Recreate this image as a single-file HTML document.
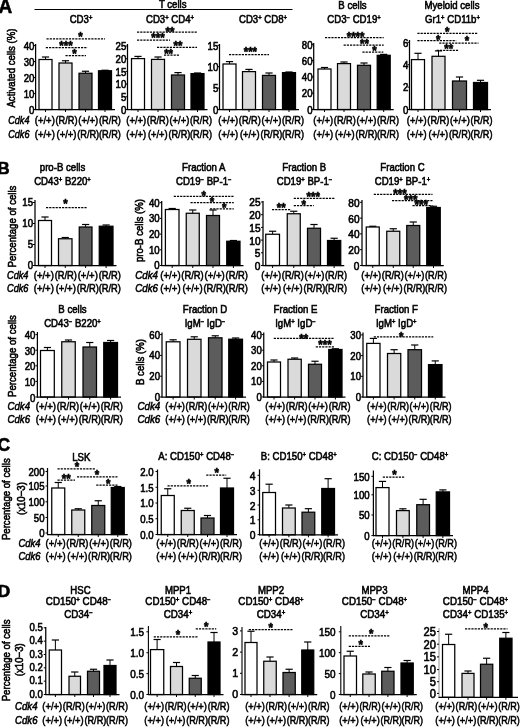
<!DOCTYPE html>
<html><head><meta charset="utf-8"><title>Figure</title>
<style>
html,body{margin:0;padding:0;background:#fff;}
svg{display:block;font-family:"Liberation Sans",sans-serif;fill:#000;}
text{stroke:#000;stroke-width:0.6px;}
</style></head>
<body>
<svg width="520" height="727" viewBox="0 0 520 727">
<rect x="0" y="0" width="520" height="727" fill="#fff" stroke="none"/>
<text transform="translate(-1.50 12.70) scale(0.950 1)" font-size="20.0" text-anchor="start" font-weight="bold">A</text>
<line x1="34.50" y1="9.50" x2="292.50" y2="9.50" stroke="#000" stroke-width="1.00"/>
<text transform="translate(172.70 7.80) scale(0.875 1)" font-size="11.0" text-anchor="middle">T cells</text>
<text transform="translate(81.00 23.44) scale(0.875 1)" font-size="11.0" text-anchor="middle">CD3<tspan dy="-3.0" font-size="6.8">+</tspan></text>
<text transform="translate(170.00 23.44) scale(0.875 1)" font-size="11.0" text-anchor="middle">CD3<tspan dy="-3.0" font-size="6.8">+</tspan><tspan dy="3.0"> CD4</tspan><tspan dy="-3.0" font-size="6.8">+</tspan></text>
<text transform="translate(263.00 23.44) scale(0.875 1)" font-size="11.0" text-anchor="middle">CD3<tspan dy="-3.0" font-size="6.8">+</tspan><tspan dy="3.0"> CD8</tspan><tspan dy="-3.0" font-size="6.8">+</tspan></text>
<text transform="translate(352.50 9.44) scale(0.875 1)" font-size="11.0" text-anchor="middle">B cells</text>
<text transform="translate(354.00 23.44) scale(0.875 1)" font-size="11.0" text-anchor="middle">CD3<tspan dy="-3.0" font-size="6.8">−</tspan><tspan dy="3.0"> CD19</tspan><tspan dy="-3.0" font-size="6.8">+</tspan></text>
<text transform="translate(452.00 9.44) scale(0.875 1)" font-size="11.0" text-anchor="middle">Myeloid cells</text>
<text transform="translate(452.50 23.44) scale(0.875 1)" font-size="11.0" text-anchor="middle">Gr1<tspan dy="-3.0" font-size="6.8">+</tspan><tspan dy="3.0"> CD11b</tspan><tspan dy="-3.0" font-size="6.8">+</tspan></text>
<text transform="translate(14.94 68.00) rotate(-90) scale(0.875 1)" font-size="11.0" text-anchor="middle">Activated cells (%)</text>
<line x1="45.50" y1="59.50" x2="45.50" y2="57.00" stroke="#000" stroke-width="1.00"/>
<line x1="41.90" y1="57.00" x2="49.10" y2="57.00" stroke="#000" stroke-width="1.20"/>
<rect x="39.00" y="59.50" width="13.00" height="50.00" fill="#ffffff" stroke="#000" stroke-width="1.25"/>
<line x1="45.50" y1="109.50" x2="45.50" y2="112.00" stroke="#000" stroke-width="1.00"/>
<line x1="65.50" y1="63.00" x2="65.50" y2="60.75" stroke="#000" stroke-width="1.00"/>
<line x1="61.90" y1="60.75" x2="69.10" y2="60.75" stroke="#000" stroke-width="1.20"/>
<rect x="59.00" y="63.00" width="13.00" height="46.50" fill="#dadada" stroke="#000" stroke-width="1.25"/>
<line x1="65.50" y1="109.50" x2="65.50" y2="112.00" stroke="#000" stroke-width="1.00"/>
<line x1="85.50" y1="73.25" x2="85.50" y2="71.25" stroke="#000" stroke-width="1.00"/>
<line x1="81.90" y1="71.25" x2="89.10" y2="71.25" stroke="#000" stroke-width="1.20"/>
<rect x="79.00" y="73.25" width="13.00" height="36.25" fill="#5c5c5c" stroke="#000" stroke-width="1.25"/>
<line x1="85.50" y1="109.50" x2="85.50" y2="112.00" stroke="#000" stroke-width="1.00"/>
<line x1="105.00" y1="70.75" x2="105.00" y2="70.25" stroke="#000" stroke-width="1.00"/>
<line x1="101.40" y1="70.25" x2="108.60" y2="70.25" stroke="#000" stroke-width="1.20"/>
<rect x="98.50" y="70.75" width="13.00" height="38.75" fill="#000000" stroke="#000" stroke-width="1.25"/>
<line x1="105.00" y1="109.50" x2="105.00" y2="112.00" stroke="#000" stroke-width="1.00"/>
<line x1="35.60" y1="44.00" x2="35.60" y2="110.00" stroke="#000" stroke-width="1.25"/>
<line x1="35.10" y1="109.50" x2="115.00" y2="109.50" stroke="#000" stroke-width="1.25"/>
<line x1="33.60" y1="45.50" x2="35.60" y2="45.50" stroke="#000" stroke-width="1.00"/>
<text transform="translate(34.40 49.74) scale(0.875 1)" font-size="11.0" text-anchor="end">40</text>
<line x1="33.60" y1="61.50" x2="35.60" y2="61.50" stroke="#000" stroke-width="1.00"/>
<text transform="translate(34.40 65.74) scale(0.875 1)" font-size="11.0" text-anchor="end">30</text>
<line x1="33.60" y1="77.50" x2="35.60" y2="77.50" stroke="#000" stroke-width="1.00"/>
<text transform="translate(34.40 81.74) scale(0.875 1)" font-size="11.0" text-anchor="end">20</text>
<line x1="33.60" y1="93.50" x2="35.60" y2="93.50" stroke="#000" stroke-width="1.00"/>
<text transform="translate(34.40 97.74) scale(0.875 1)" font-size="11.0" text-anchor="end">10</text>
<line x1="33.60" y1="109.50" x2="35.60" y2="109.50" stroke="#000" stroke-width="1.00"/>
<text transform="translate(34.40 113.74) scale(0.875 1)" font-size="11.0" text-anchor="end">0</text>
<line x1="46.50" y1="38.75" x2="105.00" y2="38.75" stroke="#000" stroke-width="1.25" stroke-dasharray="2.2 1"/>
<text transform="translate(80.50 40.54) scale(0.950 1)" font-size="12.0" text-anchor="middle" font-weight="bold" stroke-width="0.15">*</text>
<line x1="45.80" y1="47.50" x2="87.50" y2="47.50" stroke="#000" stroke-width="1.25" stroke-dasharray="2.2 1"/>
<text transform="translate(66.00 50.04) scale(0.950 1)" font-size="12.0" text-anchor="middle" font-weight="bold" stroke-width="0.15">***</text>
<line x1="65.50" y1="55.50" x2="86.00" y2="55.50" stroke="#000" stroke-width="1.25" stroke-dasharray="2.2 1"/>
<text transform="translate(74.50 58.04) scale(0.950 1)" font-size="12.0" text-anchor="middle" font-weight="bold" stroke-width="0.15">*</text>
<line x1="138.00" y1="58.60" x2="138.00" y2="56.40" stroke="#000" stroke-width="1.00"/>
<line x1="134.40" y1="56.40" x2="141.60" y2="56.40" stroke="#000" stroke-width="1.20"/>
<rect x="131.50" y="58.60" width="13.00" height="50.90" fill="#ffffff" stroke="#000" stroke-width="1.25"/>
<line x1="138.00" y1="109.50" x2="138.00" y2="112.00" stroke="#000" stroke-width="1.00"/>
<line x1="158.00" y1="59.40" x2="158.00" y2="57.00" stroke="#000" stroke-width="1.00"/>
<line x1="154.40" y1="57.00" x2="161.60" y2="57.00" stroke="#000" stroke-width="1.20"/>
<rect x="151.50" y="59.40" width="13.00" height="50.10" fill="#dadada" stroke="#000" stroke-width="1.25"/>
<line x1="158.00" y1="109.50" x2="158.00" y2="112.00" stroke="#000" stroke-width="1.00"/>
<line x1="178.00" y1="75.00" x2="178.00" y2="72.60" stroke="#000" stroke-width="1.00"/>
<line x1="174.40" y1="72.60" x2="181.60" y2="72.60" stroke="#000" stroke-width="1.20"/>
<rect x="171.50" y="75.00" width="13.00" height="34.50" fill="#5c5c5c" stroke="#000" stroke-width="1.25"/>
<line x1="178.00" y1="109.50" x2="178.00" y2="112.00" stroke="#000" stroke-width="1.00"/>
<line x1="197.50" y1="73.60" x2="197.50" y2="73.00" stroke="#000" stroke-width="1.00"/>
<line x1="193.90" y1="73.00" x2="201.10" y2="73.00" stroke="#000" stroke-width="1.20"/>
<rect x="191.00" y="73.60" width="13.00" height="35.90" fill="#000000" stroke="#000" stroke-width="1.25"/>
<line x1="197.50" y1="109.50" x2="197.50" y2="112.00" stroke="#000" stroke-width="1.00"/>
<line x1="127.50" y1="44.00" x2="127.50" y2="110.00" stroke="#000" stroke-width="1.25"/>
<line x1="127.00" y1="109.50" x2="207.50" y2="109.50" stroke="#000" stroke-width="1.25"/>
<line x1="125.50" y1="46.00" x2="127.50" y2="46.00" stroke="#000" stroke-width="1.00"/>
<text transform="translate(126.30 50.24) scale(0.875 1)" font-size="11.0" text-anchor="end">25</text>
<line x1="125.50" y1="58.70" x2="127.50" y2="58.70" stroke="#000" stroke-width="1.00"/>
<text transform="translate(126.30 62.94) scale(0.875 1)" font-size="11.0" text-anchor="end">20</text>
<line x1="125.50" y1="71.40" x2="127.50" y2="71.40" stroke="#000" stroke-width="1.00"/>
<text transform="translate(126.30 75.64) scale(0.875 1)" font-size="11.0" text-anchor="end">15</text>
<line x1="125.50" y1="84.10" x2="127.50" y2="84.10" stroke="#000" stroke-width="1.00"/>
<text transform="translate(126.30 88.34) scale(0.875 1)" font-size="11.0" text-anchor="end">10</text>
<line x1="125.50" y1="96.80" x2="127.50" y2="96.80" stroke="#000" stroke-width="1.00"/>
<text transform="translate(126.30 101.04) scale(0.875 1)" font-size="11.0" text-anchor="end">5</text>
<line x1="125.50" y1="109.50" x2="127.50" y2="109.50" stroke="#000" stroke-width="1.00"/>
<text transform="translate(126.30 113.74) scale(0.875 1)" font-size="11.0" text-anchor="end">0</text>
<line x1="137.00" y1="32.00" x2="197.00" y2="32.00" stroke="#000" stroke-width="1.25" stroke-dasharray="2.2 1"/>
<text transform="translate(170.00 36.04) scale(0.950 1)" font-size="12.0" text-anchor="middle" font-weight="bold" stroke-width="0.15">**</text>
<line x1="137.00" y1="40.00" x2="170.00" y2="40.00" stroke="#000" stroke-width="1.25" stroke-dasharray="2.2 1"/>
<text transform="translate(158.00 42.44) scale(0.950 1)" font-size="12.0" text-anchor="middle" font-weight="bold" stroke-width="0.15">***</text>
<line x1="157.00" y1="47.40" x2="197.00" y2="47.40" stroke="#000" stroke-width="1.25" stroke-dasharray="2.2 1"/>
<text transform="translate(178.00 50.04) scale(0.950 1)" font-size="12.0" text-anchor="middle" font-weight="bold" stroke-width="0.15">**</text>
<line x1="164.00" y1="55.00" x2="179.00" y2="55.00" stroke="#000" stroke-width="1.25" stroke-dasharray="2.2 1"/>
<text transform="translate(168.60 57.64) scale(0.950 1)" font-size="12.0" text-anchor="middle" font-weight="bold" stroke-width="0.15">**</text>
<line x1="229.50" y1="64.00" x2="229.50" y2="61.60" stroke="#000" stroke-width="1.00"/>
<line x1="225.90" y1="61.60" x2="233.10" y2="61.60" stroke="#000" stroke-width="1.20"/>
<rect x="223.00" y="64.00" width="13.00" height="45.50" fill="#ffffff" stroke="#000" stroke-width="1.25"/>
<line x1="229.50" y1="109.50" x2="229.50" y2="112.00" stroke="#000" stroke-width="1.00"/>
<line x1="249.00" y1="71.60" x2="249.00" y2="69.40" stroke="#000" stroke-width="1.00"/>
<line x1="245.40" y1="69.40" x2="252.60" y2="69.40" stroke="#000" stroke-width="1.20"/>
<rect x="242.50" y="71.60" width="13.00" height="37.90" fill="#dadada" stroke="#000" stroke-width="1.25"/>
<line x1="249.00" y1="109.50" x2="249.00" y2="112.00" stroke="#000" stroke-width="1.00"/>
<line x1="269.00" y1="75.40" x2="269.00" y2="73.00" stroke="#000" stroke-width="1.00"/>
<line x1="265.40" y1="73.00" x2="272.60" y2="73.00" stroke="#000" stroke-width="1.20"/>
<rect x="262.50" y="75.40" width="13.00" height="34.10" fill="#5c5c5c" stroke="#000" stroke-width="1.25"/>
<line x1="269.00" y1="109.50" x2="269.00" y2="112.00" stroke="#000" stroke-width="1.00"/>
<line x1="289.00" y1="72.60" x2="289.00" y2="72.00" stroke="#000" stroke-width="1.00"/>
<line x1="285.40" y1="72.00" x2="292.60" y2="72.00" stroke="#000" stroke-width="1.20"/>
<rect x="282.50" y="72.60" width="13.00" height="36.90" fill="#000000" stroke="#000" stroke-width="1.25"/>
<line x1="289.00" y1="109.50" x2="289.00" y2="112.00" stroke="#000" stroke-width="1.00"/>
<line x1="219.50" y1="44.00" x2="219.50" y2="110.00" stroke="#000" stroke-width="1.25"/>
<line x1="219.00" y1="109.50" x2="299.00" y2="109.50" stroke="#000" stroke-width="1.25"/>
<line x1="217.50" y1="45.30" x2="219.50" y2="45.30" stroke="#000" stroke-width="1.00"/>
<text transform="translate(218.30 49.54) scale(0.875 1)" font-size="11.0" text-anchor="end">15</text>
<line x1="217.50" y1="66.70" x2="219.50" y2="66.70" stroke="#000" stroke-width="1.00"/>
<text transform="translate(218.30 70.94) scale(0.875 1)" font-size="11.0" text-anchor="end">10</text>
<line x1="217.50" y1="88.10" x2="219.50" y2="88.10" stroke="#000" stroke-width="1.00"/>
<text transform="translate(218.30 92.34) scale(0.875 1)" font-size="11.0" text-anchor="end">5</text>
<line x1="217.50" y1="109.50" x2="219.50" y2="109.50" stroke="#000" stroke-width="1.00"/>
<text transform="translate(218.30 113.74) scale(0.875 1)" font-size="11.0" text-anchor="end">0</text>
<line x1="229.00" y1="54.60" x2="269.00" y2="54.60" stroke="#000" stroke-width="1.25" stroke-dasharray="2.2 1"/>
<text transform="translate(250.40 55.74) scale(0.950 1)" font-size="12.0" text-anchor="middle" font-weight="bold" stroke-width="0.15">***</text>
<line x1="324.50" y1="69.00" x2="324.50" y2="67.50" stroke="#000" stroke-width="1.00"/>
<line x1="320.90" y1="67.50" x2="328.10" y2="67.50" stroke="#000" stroke-width="1.20"/>
<rect x="318.00" y="69.00" width="13.00" height="40.50" fill="#ffffff" stroke="#000" stroke-width="1.25"/>
<line x1="324.50" y1="109.50" x2="324.50" y2="112.00" stroke="#000" stroke-width="1.00"/>
<line x1="344.00" y1="63.60" x2="344.00" y2="62.00" stroke="#000" stroke-width="1.00"/>
<line x1="340.40" y1="62.00" x2="347.60" y2="62.00" stroke="#000" stroke-width="1.20"/>
<rect x="337.50" y="63.60" width="13.00" height="45.90" fill="#dadada" stroke="#000" stroke-width="1.25"/>
<line x1="344.00" y1="109.50" x2="344.00" y2="112.00" stroke="#000" stroke-width="1.00"/>
<line x1="364.00" y1="65.30" x2="364.00" y2="63.00" stroke="#000" stroke-width="1.00"/>
<line x1="360.40" y1="63.00" x2="367.60" y2="63.00" stroke="#000" stroke-width="1.20"/>
<rect x="357.50" y="65.30" width="13.00" height="44.20" fill="#5c5c5c" stroke="#000" stroke-width="1.25"/>
<line x1="364.00" y1="109.50" x2="364.00" y2="112.00" stroke="#000" stroke-width="1.00"/>
<line x1="383.70" y1="55.30" x2="383.70" y2="54.40" stroke="#000" stroke-width="1.00"/>
<line x1="380.10" y1="54.40" x2="387.30" y2="54.40" stroke="#000" stroke-width="1.20"/>
<rect x="377.20" y="55.30" width="13.00" height="54.20" fill="#000000" stroke="#000" stroke-width="1.25"/>
<line x1="383.70" y1="109.50" x2="383.70" y2="112.00" stroke="#000" stroke-width="1.00"/>
<line x1="313.70" y1="43.00" x2="313.70" y2="110.00" stroke="#000" stroke-width="1.25"/>
<line x1="313.20" y1="109.50" x2="393.70" y2="109.50" stroke="#000" stroke-width="1.25"/>
<line x1="311.70" y1="44.30" x2="313.70" y2="44.30" stroke="#000" stroke-width="1.00"/>
<text transform="translate(312.50 48.54) scale(0.875 1)" font-size="11.0" text-anchor="end">80</text>
<line x1="311.70" y1="60.60" x2="313.70" y2="60.60" stroke="#000" stroke-width="1.00"/>
<text transform="translate(312.50 64.84) scale(0.875 1)" font-size="11.0" text-anchor="end">60</text>
<line x1="311.70" y1="76.90" x2="313.70" y2="76.90" stroke="#000" stroke-width="1.00"/>
<text transform="translate(312.50 81.14) scale(0.875 1)" font-size="11.0" text-anchor="end">40</text>
<line x1="311.70" y1="93.20" x2="313.70" y2="93.20" stroke="#000" stroke-width="1.00"/>
<text transform="translate(312.50 97.44) scale(0.875 1)" font-size="11.0" text-anchor="end">20</text>
<line x1="311.70" y1="109.50" x2="313.70" y2="109.50" stroke="#000" stroke-width="1.00"/>
<text transform="translate(312.50 113.74) scale(0.875 1)" font-size="11.0" text-anchor="end">0</text>
<line x1="325.00" y1="37.70" x2="383.70" y2="37.70" stroke="#000" stroke-width="1.25" stroke-dasharray="2.2 1"/>
<text transform="translate(355.60 40.64) scale(0.950 1)" font-size="12.0" text-anchor="middle" font-weight="bold" stroke-width="0.15">****</text>
<line x1="343.60" y1="45.00" x2="383.70" y2="45.00" stroke="#000" stroke-width="1.25" stroke-dasharray="2.2 1"/>
<text transform="translate(364.40 47.74) scale(0.950 1)" font-size="12.0" text-anchor="middle" font-weight="bold" stroke-width="0.15">**</text>
<line x1="362.40" y1="52.20" x2="383.30" y2="52.20" stroke="#000" stroke-width="1.25" stroke-dasharray="2.2 1"/>
<text transform="translate(374.50 54.74) scale(0.950 1)" font-size="12.0" text-anchor="middle" font-weight="bold" stroke-width="0.15">*</text>
<line x1="418.00" y1="59.60" x2="418.00" y2="53.30" stroke="#000" stroke-width="1.00"/>
<line x1="414.40" y1="53.30" x2="421.60" y2="53.30" stroke="#000" stroke-width="1.20"/>
<rect x="411.50" y="59.60" width="13.00" height="49.90" fill="#ffffff" stroke="#000" stroke-width="1.25"/>
<line x1="418.00" y1="109.50" x2="418.00" y2="112.00" stroke="#000" stroke-width="1.00"/>
<line x1="438.50" y1="56.30" x2="438.50" y2="50.90" stroke="#000" stroke-width="1.00"/>
<line x1="434.90" y1="50.90" x2="442.10" y2="50.90" stroke="#000" stroke-width="1.20"/>
<rect x="432.00" y="56.30" width="13.00" height="53.20" fill="#dadada" stroke="#000" stroke-width="1.25"/>
<line x1="438.50" y1="109.50" x2="438.50" y2="112.00" stroke="#000" stroke-width="1.00"/>
<line x1="459.50" y1="81.00" x2="459.50" y2="77.00" stroke="#000" stroke-width="1.00"/>
<line x1="455.90" y1="77.00" x2="463.10" y2="77.00" stroke="#000" stroke-width="1.20"/>
<rect x="452.50" y="81.00" width="14.00" height="28.50" fill="#5c5c5c" stroke="#000" stroke-width="1.25"/>
<line x1="459.50" y1="109.50" x2="459.50" y2="112.00" stroke="#000" stroke-width="1.00"/>
<line x1="480.50" y1="82.50" x2="480.50" y2="80.30" stroke="#000" stroke-width="1.00"/>
<line x1="476.90" y1="80.30" x2="484.10" y2="80.30" stroke="#000" stroke-width="1.20"/>
<rect x="473.50" y="82.50" width="14.00" height="27.00" fill="#000000" stroke="#000" stroke-width="1.25"/>
<line x1="480.50" y1="109.50" x2="480.50" y2="112.00" stroke="#000" stroke-width="1.00"/>
<line x1="409.50" y1="40.00" x2="409.50" y2="110.00" stroke="#000" stroke-width="1.25"/>
<line x1="409.00" y1="109.50" x2="491.00" y2="109.50" stroke="#000" stroke-width="1.25"/>
<line x1="407.50" y1="42.30" x2="409.50" y2="42.30" stroke="#000" stroke-width="1.00"/>
<text transform="translate(408.30 46.54) scale(0.875 1)" font-size="11.0" text-anchor="end">6</text>
<line x1="407.50" y1="64.70" x2="409.50" y2="64.70" stroke="#000" stroke-width="1.00"/>
<text transform="translate(408.30 68.94) scale(0.875 1)" font-size="11.0" text-anchor="end">4</text>
<line x1="407.50" y1="87.10" x2="409.50" y2="87.10" stroke="#000" stroke-width="1.00"/>
<text transform="translate(408.30 91.34) scale(0.875 1)" font-size="11.0" text-anchor="end">2</text>
<line x1="407.50" y1="109.50" x2="409.50" y2="109.50" stroke="#000" stroke-width="1.00"/>
<text transform="translate(408.30 113.74) scale(0.875 1)" font-size="11.0" text-anchor="end">0</text>
<line x1="417.40" y1="33.30" x2="477.30" y2="33.30" stroke="#000" stroke-width="1.25" stroke-dasharray="2.2 1"/>
<text transform="translate(447.20 35.64) scale(0.950 1)" font-size="12.0" text-anchor="middle" font-weight="bold" stroke-width="0.15">*</text>
<line x1="417.40" y1="40.70" x2="456.20" y2="40.70" stroke="#000" stroke-width="1.25" stroke-dasharray="2.2 1"/>
<text transform="translate(438.30 43.74) scale(0.950 1)" font-size="12.0" text-anchor="middle" font-weight="bold" stroke-width="0.15">*</text>
<line x1="439.20" y1="43.20" x2="478.50" y2="43.20" stroke="#000" stroke-width="1.25" stroke-dasharray="2.2 1"/>
<text transform="translate(466.90 45.24) scale(0.950 1)" font-size="12.0" text-anchor="middle" font-weight="bold" stroke-width="0.15">*</text>
<line x1="436.70" y1="50.40" x2="458.60" y2="50.40" stroke="#000" stroke-width="1.25" stroke-dasharray="2.2 1"/>
<text transform="translate(448.80 53.04) scale(0.950 1)" font-size="12.0" text-anchor="middle" font-weight="bold" stroke-width="0.15">**</text>
<text transform="translate(8.25 124.19)" font-size="11.8" font-style="italic" textLength="21.2" lengthAdjust="spacingAndGlyphs">Cdk4</text>
<text transform="translate(8.25 137.69)" font-size="11.8" font-style="italic" textLength="21.2" lengthAdjust="spacingAndGlyphs">Cdk6</text>
<text transform="translate(34.80 124.19)" font-size="11.8" textLength="20.0" lengthAdjust="spacingAndGlyphs">(+/+)</text>
<text transform="translate(55.48 124.19)" font-size="11.8" textLength="22.0" lengthAdjust="spacingAndGlyphs">(R/R)</text>
<text transform="translate(78.23 124.19)" font-size="11.8" textLength="20.0" lengthAdjust="spacingAndGlyphs">(+/+)</text>
<text transform="translate(98.91 124.19)" font-size="11.8" textLength="22.0" lengthAdjust="spacingAndGlyphs">(R/R)</text>
<text transform="translate(34.80 137.69)" font-size="11.8" textLength="20.0" lengthAdjust="spacingAndGlyphs">(+/+)</text>
<text transform="translate(56.52 137.69)" font-size="11.8" textLength="20.0" lengthAdjust="spacingAndGlyphs">(+/+)</text>
<text transform="translate(77.20 137.69)" font-size="11.8" textLength="22.0" lengthAdjust="spacingAndGlyphs">(R/R)</text>
<text transform="translate(98.91 137.69)" font-size="11.8" textLength="22.0" lengthAdjust="spacingAndGlyphs">(R/R)</text>
<text transform="translate(126.30 124.19)" font-size="11.8" textLength="19.8" lengthAdjust="spacingAndGlyphs">(+/+)</text>
<text transform="translate(146.86 124.19)" font-size="11.8" textLength="21.9" lengthAdjust="spacingAndGlyphs">(R/R)</text>
<text transform="translate(169.48 124.19)" font-size="11.8" textLength="19.8" lengthAdjust="spacingAndGlyphs">(+/+)</text>
<text transform="translate(190.04 124.19)" font-size="11.8" textLength="21.9" lengthAdjust="spacingAndGlyphs">(R/R)</text>
<text transform="translate(126.30 137.69)" font-size="11.8" textLength="19.8" lengthAdjust="spacingAndGlyphs">(+/+)</text>
<text transform="translate(147.89 137.69)" font-size="11.8" textLength="19.8" lengthAdjust="spacingAndGlyphs">(+/+)</text>
<text transform="translate(168.45 137.69)" font-size="11.8" textLength="21.9" lengthAdjust="spacingAndGlyphs">(R/R)</text>
<text transform="translate(190.04 137.69)" font-size="11.8" textLength="21.9" lengthAdjust="spacingAndGlyphs">(R/R)</text>
<text transform="translate(218.30 124.19)" font-size="11.8" textLength="19.8" lengthAdjust="spacingAndGlyphs">(+/+)</text>
<text transform="translate(238.86 124.19)" font-size="11.8" textLength="21.9" lengthAdjust="spacingAndGlyphs">(R/R)</text>
<text transform="translate(261.48 124.19)" font-size="11.8" textLength="19.8" lengthAdjust="spacingAndGlyphs">(+/+)</text>
<text transform="translate(282.04 124.19)" font-size="11.8" textLength="21.9" lengthAdjust="spacingAndGlyphs">(R/R)</text>
<text transform="translate(218.30 137.69)" font-size="11.8" textLength="19.8" lengthAdjust="spacingAndGlyphs">(+/+)</text>
<text transform="translate(239.89 137.69)" font-size="11.8" textLength="19.8" lengthAdjust="spacingAndGlyphs">(+/+)</text>
<text transform="translate(260.45 137.69)" font-size="11.8" textLength="21.9" lengthAdjust="spacingAndGlyphs">(R/R)</text>
<text transform="translate(282.04 137.69)" font-size="11.8" textLength="21.9" lengthAdjust="spacingAndGlyphs">(R/R)</text>
<text transform="translate(313.30 124.19)" font-size="11.8" textLength="19.8" lengthAdjust="spacingAndGlyphs">(+/+)</text>
<text transform="translate(333.86 124.19)" font-size="11.8" textLength="21.9" lengthAdjust="spacingAndGlyphs">(R/R)</text>
<text transform="translate(356.48 124.19)" font-size="11.8" textLength="19.8" lengthAdjust="spacingAndGlyphs">(+/+)</text>
<text transform="translate(377.04 124.19)" font-size="11.8" textLength="21.9" lengthAdjust="spacingAndGlyphs">(R/R)</text>
<text transform="translate(313.30 137.69)" font-size="11.8" textLength="19.8" lengthAdjust="spacingAndGlyphs">(+/+)</text>
<text transform="translate(334.89 137.69)" font-size="11.8" textLength="19.8" lengthAdjust="spacingAndGlyphs">(+/+)</text>
<text transform="translate(355.45 137.69)" font-size="11.8" textLength="21.9" lengthAdjust="spacingAndGlyphs">(R/R)</text>
<text transform="translate(377.04 137.69)" font-size="11.8" textLength="21.9" lengthAdjust="spacingAndGlyphs">(R/R)</text>
<text transform="translate(406.80 124.19)" font-size="11.8" textLength="19.8" lengthAdjust="spacingAndGlyphs">(+/+)</text>
<text transform="translate(427.36 124.19)" font-size="11.8" textLength="21.9" lengthAdjust="spacingAndGlyphs">(R/R)</text>
<text transform="translate(449.98 124.19)" font-size="11.8" textLength="19.8" lengthAdjust="spacingAndGlyphs">(+/+)</text>
<text transform="translate(470.54 124.19)" font-size="11.8" textLength="21.9" lengthAdjust="spacingAndGlyphs">(R/R)</text>
<text transform="translate(406.80 137.69)" font-size="11.8" textLength="19.8" lengthAdjust="spacingAndGlyphs">(+/+)</text>
<text transform="translate(428.39 137.69)" font-size="11.8" textLength="19.8" lengthAdjust="spacingAndGlyphs">(+/+)</text>
<text transform="translate(448.95 137.69)" font-size="11.8" textLength="21.9" lengthAdjust="spacingAndGlyphs">(R/R)</text>
<text transform="translate(470.54 137.69)" font-size="11.8" textLength="21.9" lengthAdjust="spacingAndGlyphs">(R/R)</text>
<text transform="translate(-2.50 173.90) scale(1.000 1)" font-size="16.8" text-anchor="start" font-weight="bold">B</text>
<text transform="translate(62.50 170.94) scale(0.875 1)" font-size="11.0" text-anchor="middle">pro-B cells</text>
<text transform="translate(62.50 184.64) scale(0.875 1)" font-size="11.0" text-anchor="middle">CD43<tspan dy="-3.0" font-size="6.8">+</tspan><tspan dy="3.0"> B220</tspan><tspan dy="-3.0" font-size="6.8">+</tspan></text>
<text transform="translate(203.75 170.94) scale(0.875 1)" font-size="11.0" text-anchor="middle">Fraction A</text>
<text transform="translate(203.75 184.64) scale(0.875 1)" font-size="11.0" text-anchor="middle">CD19<tspan dy="-3.0" font-size="6.8">−</tspan><tspan dy="3.0"> BP-1</tspan><tspan dy="-3.0" font-size="6.8">−</tspan></text>
<text transform="translate(304.25 170.94) scale(0.875 1)" font-size="11.0" text-anchor="middle">Fraction B</text>
<text transform="translate(304.50 184.64) scale(0.875 1)" font-size="11.0" text-anchor="middle">CD19<tspan dy="-3.0" font-size="6.8">+</tspan><tspan dy="3.0"> BP-1</tspan><tspan dy="-3.0" font-size="6.8">−</tspan></text>
<text transform="translate(402.50 170.94) scale(0.875 1)" font-size="11.0" text-anchor="middle">Fraction C</text>
<text transform="translate(402.50 184.64) scale(0.875 1)" font-size="11.0" text-anchor="middle">CD19<tspan dy="-3.0" font-size="6.8">+</tspan><tspan dy="3.0"> BP-1</tspan><tspan dy="-3.0" font-size="6.8">+</tspan></text>
<text transform="translate(16.44 226.50) rotate(-90) scale(0.875 1)" font-size="11.0" text-anchor="middle">Percentage of cells</text>
<text transform="translate(143.34 230.50) rotate(-90) scale(0.875 1)" font-size="11.0" text-anchor="middle">pro-B cells (%)</text>
<line x1="45.00" y1="220.50" x2="45.00" y2="217.00" stroke="#000" stroke-width="1.00"/>
<line x1="41.40" y1="217.00" x2="48.60" y2="217.00" stroke="#000" stroke-width="1.20"/>
<rect x="38.50" y="220.50" width="13.00" height="45.00" fill="#ffffff" stroke="#000" stroke-width="1.25"/>
<line x1="45.00" y1="265.50" x2="45.00" y2="268.00" stroke="#000" stroke-width="1.00"/>
<line x1="65.25" y1="238.75" x2="65.25" y2="237.50" stroke="#000" stroke-width="1.00"/>
<line x1="61.65" y1="237.50" x2="68.85" y2="237.50" stroke="#000" stroke-width="1.20"/>
<rect x="58.50" y="238.75" width="13.50" height="26.75" fill="#dadada" stroke="#000" stroke-width="1.25"/>
<line x1="65.25" y1="265.50" x2="65.25" y2="268.00" stroke="#000" stroke-width="1.00"/>
<line x1="85.62" y1="227.00" x2="85.62" y2="224.50" stroke="#000" stroke-width="1.00"/>
<line x1="82.03" y1="224.50" x2="89.22" y2="224.50" stroke="#000" stroke-width="1.20"/>
<rect x="79.25" y="227.00" width="12.75" height="38.50" fill="#5c5c5c" stroke="#000" stroke-width="1.25"/>
<line x1="85.62" y1="265.50" x2="85.62" y2="268.00" stroke="#000" stroke-width="1.00"/>
<line x1="106.12" y1="226.25" x2="106.12" y2="225.00" stroke="#000" stroke-width="1.00"/>
<line x1="102.53" y1="225.00" x2="109.72" y2="225.00" stroke="#000" stroke-width="1.20"/>
<rect x="99.25" y="226.25" width="13.75" height="39.25" fill="#000000" stroke="#000" stroke-width="1.25"/>
<line x1="106.12" y1="265.50" x2="106.12" y2="268.00" stroke="#000" stroke-width="1.00"/>
<line x1="35.00" y1="200.00" x2="35.00" y2="266.00" stroke="#000" stroke-width="1.25"/>
<line x1="34.50" y1="265.50" x2="116.50" y2="265.50" stroke="#000" stroke-width="1.25"/>
<line x1="33.00" y1="202.50" x2="35.00" y2="202.50" stroke="#000" stroke-width="1.00"/>
<text transform="translate(33.00 206.44) scale(0.875 1)" font-size="11.0" text-anchor="end">15</text>
<line x1="33.00" y1="223.50" x2="35.00" y2="223.50" stroke="#000" stroke-width="1.00"/>
<text transform="translate(33.00 227.44) scale(0.875 1)" font-size="11.0" text-anchor="end">10</text>
<line x1="33.00" y1="244.50" x2="35.00" y2="244.50" stroke="#000" stroke-width="1.00"/>
<text transform="translate(33.00 248.44) scale(0.875 1)" font-size="11.0" text-anchor="end">5</text>
<line x1="33.00" y1="265.50" x2="35.00" y2="265.50" stroke="#000" stroke-width="1.00"/>
<text transform="translate(33.00 269.44) scale(0.875 1)" font-size="11.0" text-anchor="end">0</text>
<line x1="46.00" y1="207.50" x2="87.50" y2="207.50" stroke="#000" stroke-width="1.25" stroke-dasharray="2.2 1"/>
<text transform="translate(65.50 207.54) scale(0.950 1)" font-size="12.0" text-anchor="middle" font-weight="bold" stroke-width="0.15">*</text>
<line x1="172.20" y1="209.50" x2="172.20" y2="208.50" stroke="#000" stroke-width="1.00"/>
<line x1="168.60" y1="208.50" x2="175.80" y2="208.50" stroke="#000" stroke-width="1.20"/>
<rect x="165.40" y="209.50" width="13.60" height="56.00" fill="#ffffff" stroke="#000" stroke-width="1.25"/>
<line x1="172.20" y1="265.50" x2="172.20" y2="268.00" stroke="#000" stroke-width="1.00"/>
<line x1="192.75" y1="213.25" x2="192.75" y2="210.00" stroke="#000" stroke-width="1.00"/>
<line x1="189.15" y1="210.00" x2="196.35" y2="210.00" stroke="#000" stroke-width="1.20"/>
<rect x="186.25" y="213.25" width="13.00" height="52.25" fill="#dadada" stroke="#000" stroke-width="1.25"/>
<line x1="192.75" y1="265.50" x2="192.75" y2="268.00" stroke="#000" stroke-width="1.00"/>
<line x1="213.00" y1="215.50" x2="213.00" y2="210.00" stroke="#000" stroke-width="1.00"/>
<line x1="209.40" y1="210.00" x2="216.60" y2="210.00" stroke="#000" stroke-width="1.20"/>
<rect x="206.50" y="215.50" width="13.00" height="50.00" fill="#5c5c5c" stroke="#000" stroke-width="1.25"/>
<line x1="213.00" y1="265.50" x2="213.00" y2="268.00" stroke="#000" stroke-width="1.00"/>
<line x1="233.38" y1="241.25" x2="233.38" y2="240.50" stroke="#000" stroke-width="1.00"/>
<line x1="229.78" y1="240.50" x2="236.97" y2="240.50" stroke="#000" stroke-width="1.20"/>
<rect x="226.75" y="241.25" width="13.25" height="24.25" fill="#000000" stroke="#000" stroke-width="1.25"/>
<line x1="233.38" y1="265.50" x2="233.38" y2="268.00" stroke="#000" stroke-width="1.00"/>
<line x1="161.70" y1="201.00" x2="161.70" y2="266.00" stroke="#000" stroke-width="1.25"/>
<line x1="161.20" y1="265.50" x2="243.50" y2="265.50" stroke="#000" stroke-width="1.25"/>
<line x1="159.70" y1="202.70" x2="161.70" y2="202.70" stroke="#000" stroke-width="1.00"/>
<text transform="translate(159.70 206.64) scale(0.875 1)" font-size="11.0" text-anchor="end">40</text>
<line x1="159.70" y1="218.40" x2="161.70" y2="218.40" stroke="#000" stroke-width="1.00"/>
<text transform="translate(159.70 222.34) scale(0.875 1)" font-size="11.0" text-anchor="end">30</text>
<line x1="159.70" y1="234.10" x2="161.70" y2="234.10" stroke="#000" stroke-width="1.00"/>
<text transform="translate(159.70 238.04) scale(0.875 1)" font-size="11.0" text-anchor="end">20</text>
<line x1="159.70" y1="249.80" x2="161.70" y2="249.80" stroke="#000" stroke-width="1.00"/>
<text transform="translate(159.70 253.74) scale(0.875 1)" font-size="11.0" text-anchor="end">10</text>
<line x1="159.70" y1="265.50" x2="161.70" y2="265.50" stroke="#000" stroke-width="1.00"/>
<text transform="translate(159.70 269.44) scale(0.875 1)" font-size="11.0" text-anchor="end">0</text>
<line x1="173.75" y1="196.25" x2="233.75" y2="196.25" stroke="#000" stroke-width="1.25" stroke-dasharray="2.2 1"/>
<text transform="translate(203.75 199.79) scale(0.950 1)" font-size="12.0" text-anchor="middle" font-weight="bold" stroke-width="0.15">*</text>
<line x1="190.50" y1="202.50" x2="233.75" y2="202.50" stroke="#000" stroke-width="1.25" stroke-dasharray="2.2 1"/>
<text transform="translate(212.00 205.54) scale(0.950 1)" font-size="12.0" text-anchor="middle" font-weight="bold" stroke-width="0.15">*</text>
<line x1="210.00" y1="208.75" x2="233.75" y2="208.75" stroke="#000" stroke-width="1.25" stroke-dasharray="2.2 1"/>
<text transform="translate(224.25 211.54) scale(0.950 1)" font-size="12.0" text-anchor="middle" font-weight="bold" stroke-width="0.15">*</text>
<line x1="272.62" y1="234.25" x2="272.62" y2="231.25" stroke="#000" stroke-width="1.00"/>
<line x1="269.02" y1="231.25" x2="276.23" y2="231.25" stroke="#000" stroke-width="1.20"/>
<rect x="265.75" y="234.25" width="13.75" height="31.25" fill="#ffffff" stroke="#000" stroke-width="1.25"/>
<line x1="272.62" y1="265.50" x2="272.62" y2="268.00" stroke="#000" stroke-width="1.00"/>
<line x1="293.75" y1="213.75" x2="293.75" y2="211.25" stroke="#000" stroke-width="1.00"/>
<line x1="290.15" y1="211.25" x2="297.35" y2="211.25" stroke="#000" stroke-width="1.20"/>
<rect x="287.25" y="213.75" width="13.00" height="51.75" fill="#dadada" stroke="#000" stroke-width="1.25"/>
<line x1="293.75" y1="265.50" x2="293.75" y2="268.00" stroke="#000" stroke-width="1.00"/>
<line x1="314.00" y1="228.25" x2="314.00" y2="224.50" stroke="#000" stroke-width="1.00"/>
<line x1="310.40" y1="224.50" x2="317.60" y2="224.50" stroke="#000" stroke-width="1.20"/>
<rect x="307.50" y="228.25" width="13.00" height="37.25" fill="#5c5c5c" stroke="#000" stroke-width="1.25"/>
<line x1="314.00" y1="265.50" x2="314.00" y2="268.00" stroke="#000" stroke-width="1.00"/>
<line x1="334.12" y1="240.50" x2="334.12" y2="238.25" stroke="#000" stroke-width="1.00"/>
<line x1="330.52" y1="238.25" x2="337.73" y2="238.25" stroke="#000" stroke-width="1.20"/>
<rect x="327.50" y="240.50" width="13.25" height="25.00" fill="#000000" stroke="#000" stroke-width="1.25"/>
<line x1="334.12" y1="265.50" x2="334.12" y2="268.00" stroke="#000" stroke-width="1.00"/>
<line x1="263.00" y1="201.00" x2="263.00" y2="266.00" stroke="#000" stroke-width="1.25"/>
<line x1="262.50" y1="265.50" x2="344.25" y2="265.50" stroke="#000" stroke-width="1.25"/>
<line x1="261.00" y1="202.00" x2="263.00" y2="202.00" stroke="#000" stroke-width="1.00"/>
<text transform="translate(260.50 206.44) scale(0.920 1)" font-size="11.0" text-anchor="end">25</text>
<line x1="261.00" y1="214.70" x2="263.00" y2="214.70" stroke="#000" stroke-width="1.00"/>
<text transform="translate(260.50 219.14) scale(0.920 1)" font-size="11.0" text-anchor="end">20</text>
<line x1="261.00" y1="227.40" x2="263.00" y2="227.40" stroke="#000" stroke-width="1.00"/>
<text transform="translate(260.50 231.84) scale(0.920 1)" font-size="11.0" text-anchor="end">15</text>
<line x1="261.00" y1="240.10" x2="263.00" y2="240.10" stroke="#000" stroke-width="1.00"/>
<text transform="translate(260.50 244.54) scale(0.920 1)" font-size="11.0" text-anchor="end">10</text>
<line x1="261.00" y1="252.80" x2="263.00" y2="252.80" stroke="#000" stroke-width="1.00"/>
<text transform="translate(260.50 257.24) scale(0.920 1)" font-size="11.0" text-anchor="end">5</text>
<line x1="261.00" y1="265.50" x2="263.00" y2="265.50" stroke="#000" stroke-width="1.00"/>
<text transform="translate(260.50 269.94) scale(0.920 1)" font-size="11.0" text-anchor="end">0</text>
<line x1="293.75" y1="198.25" x2="334.50" y2="198.25" stroke="#000" stroke-width="1.25" stroke-dasharray="2.2 1"/>
<text transform="translate(313.25 201.04) scale(0.950 1)" font-size="12.0" text-anchor="middle" font-weight="bold" stroke-width="0.15">***</text>
<line x1="293.75" y1="205.50" x2="313.75" y2="205.50" stroke="#000" stroke-width="1.25" stroke-dasharray="2.2 1"/>
<text transform="translate(303.75 208.54) scale(0.950 1)" font-size="12.0" text-anchor="middle" font-weight="bold" stroke-width="0.15">*</text>
<line x1="272.00" y1="209.50" x2="291.25" y2="209.50" stroke="#000" stroke-width="1.25" stroke-dasharray="2.2 1"/>
<text transform="translate(281.25 212.29) scale(0.950 1)" font-size="12.0" text-anchor="middle" font-weight="bold" stroke-width="0.15">**</text>
<line x1="372.75" y1="227.00" x2="372.75" y2="226.25" stroke="#000" stroke-width="1.00"/>
<line x1="369.15" y1="226.25" x2="376.35" y2="226.25" stroke="#000" stroke-width="1.20"/>
<rect x="366.25" y="227.00" width="13.00" height="38.50" fill="#ffffff" stroke="#000" stroke-width="1.25"/>
<line x1="372.75" y1="265.50" x2="372.75" y2="268.00" stroke="#000" stroke-width="1.00"/>
<line x1="393.25" y1="231.25" x2="393.25" y2="228.75" stroke="#000" stroke-width="1.00"/>
<line x1="389.65" y1="228.75" x2="396.85" y2="228.75" stroke="#000" stroke-width="1.20"/>
<rect x="386.75" y="231.25" width="13.00" height="34.25" fill="#dadada" stroke="#000" stroke-width="1.25"/>
<line x1="393.25" y1="265.50" x2="393.25" y2="268.00" stroke="#000" stroke-width="1.00"/>
<line x1="413.25" y1="225.50" x2="413.25" y2="222.00" stroke="#000" stroke-width="1.00"/>
<line x1="409.65" y1="222.00" x2="416.85" y2="222.00" stroke="#000" stroke-width="1.20"/>
<rect x="406.75" y="225.50" width="13.00" height="40.00" fill="#5c5c5c" stroke="#000" stroke-width="1.25"/>
<line x1="413.25" y1="265.50" x2="413.25" y2="268.00" stroke="#000" stroke-width="1.00"/>
<line x1="433.50" y1="207.50" x2="433.50" y2="206.25" stroke="#000" stroke-width="1.00"/>
<line x1="429.90" y1="206.25" x2="437.10" y2="206.25" stroke="#000" stroke-width="1.20"/>
<rect x="426.75" y="207.50" width="13.50" height="58.00" fill="#000000" stroke="#000" stroke-width="1.25"/>
<line x1="433.50" y1="265.50" x2="433.50" y2="268.00" stroke="#000" stroke-width="1.00"/>
<line x1="362.00" y1="200.00" x2="362.00" y2="266.00" stroke="#000" stroke-width="1.25"/>
<line x1="361.50" y1="265.50" x2="443.75" y2="265.50" stroke="#000" stroke-width="1.25"/>
<line x1="360.00" y1="202.30" x2="362.00" y2="202.30" stroke="#000" stroke-width="1.00"/>
<text transform="translate(359.50 206.74) scale(0.920 1)" font-size="11.0" text-anchor="end">80</text>
<line x1="360.00" y1="218.10" x2="362.00" y2="218.10" stroke="#000" stroke-width="1.00"/>
<text transform="translate(359.50 222.54) scale(0.920 1)" font-size="11.0" text-anchor="end">60</text>
<line x1="360.00" y1="233.90" x2="362.00" y2="233.90" stroke="#000" stroke-width="1.00"/>
<text transform="translate(359.50 238.34) scale(0.920 1)" font-size="11.0" text-anchor="end">40</text>
<line x1="360.00" y1="249.70" x2="362.00" y2="249.70" stroke="#000" stroke-width="1.00"/>
<text transform="translate(359.50 254.14) scale(0.920 1)" font-size="11.0" text-anchor="end">20</text>
<line x1="360.00" y1="265.50" x2="362.00" y2="265.50" stroke="#000" stroke-width="1.00"/>
<text transform="translate(359.50 269.94) scale(0.920 1)" font-size="11.0" text-anchor="end">0</text>
<line x1="373.75" y1="194.25" x2="432.50" y2="194.25" stroke="#000" stroke-width="1.25" stroke-dasharray="2.2 1"/>
<text transform="translate(400.00 197.54) scale(0.950 1)" font-size="12.0" text-anchor="middle" font-weight="bold" stroke-width="0.15">***</text>
<line x1="392.00" y1="200.50" x2="432.50" y2="200.50" stroke="#000" stroke-width="1.25" stroke-dasharray="2.2 1"/>
<text transform="translate(410.75 203.54) scale(0.950 1)" font-size="12.0" text-anchor="middle" font-weight="bold" stroke-width="0.15">***</text>
<line x1="412.50" y1="205.50" x2="432.50" y2="205.50" stroke="#000" stroke-width="1.25" stroke-dasharray="2.2 1"/>
<text transform="translate(421.25 209.04) scale(0.950 1)" font-size="12.0" text-anchor="middle" font-weight="bold" stroke-width="0.15">***</text>
<text transform="translate(7.00 279.19)" font-size="11.8" font-style="italic" textLength="21.5" lengthAdjust="spacingAndGlyphs">Cdk4</text>
<text transform="translate(7.00 292.49)" font-size="11.8" font-style="italic" textLength="21.5" lengthAdjust="spacingAndGlyphs">Cdk6</text>
<text transform="translate(33.70 279.19)" font-size="11.8" textLength="20.2" lengthAdjust="spacingAndGlyphs">(+/+)</text>
<text transform="translate(54.65 279.19)" font-size="11.8" textLength="22.3" lengthAdjust="spacingAndGlyphs">(R/R)</text>
<text transform="translate(77.69 279.19)" font-size="11.8" textLength="20.2" lengthAdjust="spacingAndGlyphs">(+/+)</text>
<text transform="translate(98.63 279.19)" font-size="11.8" textLength="22.3" lengthAdjust="spacingAndGlyphs">(R/R)</text>
<text transform="translate(33.70 292.49)" font-size="11.8" textLength="20.2" lengthAdjust="spacingAndGlyphs">(+/+)</text>
<text transform="translate(55.69 292.49)" font-size="11.8" textLength="20.2" lengthAdjust="spacingAndGlyphs">(+/+)</text>
<text transform="translate(76.64 292.49)" font-size="11.8" textLength="22.3" lengthAdjust="spacingAndGlyphs">(R/R)</text>
<text transform="translate(98.63 292.49)" font-size="11.8" textLength="22.3" lengthAdjust="spacingAndGlyphs">(R/R)</text>
<text transform="translate(135.30 279.19)" font-size="11.8" font-style="italic" textLength="22.7" lengthAdjust="spacingAndGlyphs">Cdk4</text>
<text transform="translate(135.30 292.49)" font-size="11.8" font-style="italic" textLength="22.7" lengthAdjust="spacingAndGlyphs">Cdk6</text>
<text transform="translate(160.30 279.19)" font-size="11.8" textLength="20.3" lengthAdjust="spacingAndGlyphs">(+/+)</text>
<text transform="translate(181.34 279.19)" font-size="11.8" textLength="22.4" lengthAdjust="spacingAndGlyphs">(R/R)</text>
<text transform="translate(204.49 279.19)" font-size="11.8" textLength="20.3" lengthAdjust="spacingAndGlyphs">(+/+)</text>
<text transform="translate(225.53 279.19)" font-size="11.8" textLength="22.4" lengthAdjust="spacingAndGlyphs">(R/R)</text>
<text transform="translate(160.30 292.49)" font-size="11.8" textLength="20.3" lengthAdjust="spacingAndGlyphs">(+/+)</text>
<text transform="translate(182.39 292.49)" font-size="11.8" textLength="20.3" lengthAdjust="spacingAndGlyphs">(+/+)</text>
<text transform="translate(203.44 292.49)" font-size="11.8" textLength="22.4" lengthAdjust="spacingAndGlyphs">(R/R)</text>
<text transform="translate(225.53 292.49)" font-size="11.8" textLength="22.4" lengthAdjust="spacingAndGlyphs">(R/R)</text>
<text transform="translate(261.30 279.19)" font-size="11.8" textLength="19.8" lengthAdjust="spacingAndGlyphs">(+/+)</text>
<text transform="translate(281.86 279.19)" font-size="11.8" textLength="21.9" lengthAdjust="spacingAndGlyphs">(R/R)</text>
<text transform="translate(304.48 279.19)" font-size="11.8" textLength="19.8" lengthAdjust="spacingAndGlyphs">(+/+)</text>
<text transform="translate(325.04 279.19)" font-size="11.8" textLength="21.9" lengthAdjust="spacingAndGlyphs">(R/R)</text>
<text transform="translate(261.30 292.49)" font-size="11.8" textLength="19.8" lengthAdjust="spacingAndGlyphs">(+/+)</text>
<text transform="translate(282.89 292.49)" font-size="11.8" textLength="19.8" lengthAdjust="spacingAndGlyphs">(+/+)</text>
<text transform="translate(303.45 292.49)" font-size="11.8" textLength="21.9" lengthAdjust="spacingAndGlyphs">(R/R)</text>
<text transform="translate(325.04 292.49)" font-size="11.8" textLength="21.9" lengthAdjust="spacingAndGlyphs">(R/R)</text>
<text transform="translate(361.30 279.19)" font-size="11.8" textLength="19.8" lengthAdjust="spacingAndGlyphs">(+/+)</text>
<text transform="translate(381.86 279.19)" font-size="11.8" textLength="21.9" lengthAdjust="spacingAndGlyphs">(R/R)</text>
<text transform="translate(404.48 279.19)" font-size="11.8" textLength="19.8" lengthAdjust="spacingAndGlyphs">(+/+)</text>
<text transform="translate(425.04 279.19)" font-size="11.8" textLength="21.9" lengthAdjust="spacingAndGlyphs">(R/R)</text>
<text transform="translate(361.30 292.49)" font-size="11.8" textLength="19.8" lengthAdjust="spacingAndGlyphs">(+/+)</text>
<text transform="translate(382.89 292.49)" font-size="11.8" textLength="19.8" lengthAdjust="spacingAndGlyphs">(+/+)</text>
<text transform="translate(403.45 292.49)" font-size="11.8" textLength="21.9" lengthAdjust="spacingAndGlyphs">(R/R)</text>
<text transform="translate(425.04 292.49)" font-size="11.8" textLength="21.9" lengthAdjust="spacingAndGlyphs">(R/R)</text>
<text transform="translate(72.50 313.19) scale(0.875 1)" font-size="11.0" text-anchor="middle">B cells</text>
<text transform="translate(72.50 326.94) scale(0.875 1)" font-size="11.0" text-anchor="middle">CD43<tspan dy="-3.0" font-size="6.8">−</tspan><tspan dy="3.0"> B220</tspan><tspan dy="-3.0" font-size="6.8">+</tspan></text>
<text transform="translate(205.00 313.19) scale(0.875 1)" font-size="11.0" text-anchor="middle">Fraction D</text>
<text transform="translate(205.00 326.94) scale(0.875 1)" font-size="11.0" text-anchor="middle">IgM<tspan dy="-3.0" font-size="6.8">−</tspan><tspan dy="3.0"> IgD</tspan><tspan dy="-3.0" font-size="6.8">−</tspan></text>
<text transform="translate(295.50 313.19) scale(0.875 1)" font-size="11.0" text-anchor="middle">Fraction E</text>
<text transform="translate(295.50 326.94) scale(0.875 1)" font-size="11.0" text-anchor="middle">IgM<tspan dy="-3.0" font-size="6.8">+</tspan><tspan dy="3.0"> IgD</tspan><tspan dy="-3.0" font-size="6.8">−</tspan></text>
<text transform="translate(396.25 313.19) scale(0.875 1)" font-size="11.0" text-anchor="middle">Fraction F</text>
<text transform="translate(396.25 326.94) scale(0.875 1)" font-size="11.0" text-anchor="middle">IgM<tspan dy="-3.0" font-size="6.8">+</tspan><tspan dy="3.0"> IgD</tspan><tspan dy="-3.0" font-size="6.8">+</tspan></text>
<text transform="translate(16.44 356.00) rotate(-90) scale(0.875 1)" font-size="11.0" text-anchor="middle">Percentage of cells</text>
<text transform="translate(144.44 362.00) rotate(-90) scale(0.875 1)" font-size="11.0" text-anchor="middle">B cells (%)</text>
<line x1="47.40" y1="350.50" x2="47.40" y2="347.50" stroke="#000" stroke-width="1.00"/>
<line x1="43.80" y1="347.50" x2="51.00" y2="347.50" stroke="#000" stroke-width="1.20"/>
<rect x="40.50" y="350.50" width="13.80" height="46.50" fill="#ffffff" stroke="#000" stroke-width="1.25"/>
<line x1="47.40" y1="397.00" x2="47.40" y2="399.50" stroke="#000" stroke-width="1.00"/>
<line x1="68.50" y1="341.75" x2="68.50" y2="340.00" stroke="#000" stroke-width="1.00"/>
<line x1="64.90" y1="340.00" x2="72.10" y2="340.00" stroke="#000" stroke-width="1.20"/>
<rect x="61.75" y="341.75" width="13.50" height="55.25" fill="#dadada" stroke="#000" stroke-width="1.25"/>
<line x1="68.50" y1="397.00" x2="68.50" y2="399.50" stroke="#000" stroke-width="1.00"/>
<line x1="89.75" y1="347.00" x2="89.75" y2="342.50" stroke="#000" stroke-width="1.00"/>
<line x1="86.15" y1="342.50" x2="93.35" y2="342.50" stroke="#000" stroke-width="1.20"/>
<rect x="83.00" y="347.00" width="13.50" height="50.00" fill="#5c5c5c" stroke="#000" stroke-width="1.25"/>
<line x1="89.75" y1="397.00" x2="89.75" y2="399.50" stroke="#000" stroke-width="1.00"/>
<line x1="110.62" y1="342.50" x2="110.62" y2="340.50" stroke="#000" stroke-width="1.00"/>
<line x1="107.03" y1="340.50" x2="114.22" y2="340.50" stroke="#000" stroke-width="1.20"/>
<rect x="103.75" y="342.50" width="13.75" height="54.50" fill="#000000" stroke="#000" stroke-width="1.25"/>
<line x1="110.62" y1="397.00" x2="110.62" y2="399.50" stroke="#000" stroke-width="1.00"/>
<line x1="37.40" y1="332.00" x2="37.40" y2="397.50" stroke="#000" stroke-width="1.25"/>
<line x1="36.90" y1="397.00" x2="121.00" y2="397.00" stroke="#000" stroke-width="1.25"/>
<line x1="35.40" y1="334.60" x2="37.40" y2="334.60" stroke="#000" stroke-width="1.00"/>
<text transform="translate(35.40 339.14) scale(0.875 1)" font-size="11.0" text-anchor="end">40</text>
<line x1="35.40" y1="350.20" x2="37.40" y2="350.20" stroke="#000" stroke-width="1.00"/>
<text transform="translate(35.40 354.74) scale(0.875 1)" font-size="11.0" text-anchor="end">30</text>
<line x1="35.40" y1="365.80" x2="37.40" y2="365.80" stroke="#000" stroke-width="1.00"/>
<text transform="translate(35.40 370.34) scale(0.875 1)" font-size="11.0" text-anchor="end">20</text>
<line x1="35.40" y1="381.40" x2="37.40" y2="381.40" stroke="#000" stroke-width="1.00"/>
<text transform="translate(35.40 385.94) scale(0.875 1)" font-size="11.0" text-anchor="end">10</text>
<line x1="35.40" y1="397.00" x2="37.40" y2="397.00" stroke="#000" stroke-width="1.00"/>
<text transform="translate(35.40 401.54) scale(0.875 1)" font-size="11.0" text-anchor="end">0</text>
<line x1="173.12" y1="341.80" x2="173.12" y2="339.80" stroke="#000" stroke-width="1.00"/>
<line x1="169.53" y1="339.80" x2="176.72" y2="339.80" stroke="#000" stroke-width="1.20"/>
<rect x="166.25" y="341.80" width="13.75" height="55.20" fill="#ffffff" stroke="#000" stroke-width="1.25"/>
<line x1="173.12" y1="397.00" x2="173.12" y2="399.50" stroke="#000" stroke-width="1.00"/>
<line x1="194.25" y1="339.30" x2="194.25" y2="336.80" stroke="#000" stroke-width="1.00"/>
<line x1="190.65" y1="336.80" x2="197.85" y2="336.80" stroke="#000" stroke-width="1.20"/>
<rect x="187.50" y="339.30" width="13.50" height="57.70" fill="#dadada" stroke="#000" stroke-width="1.25"/>
<line x1="194.25" y1="397.00" x2="194.25" y2="399.50" stroke="#000" stroke-width="1.00"/>
<line x1="215.25" y1="337.80" x2="215.25" y2="335.80" stroke="#000" stroke-width="1.00"/>
<line x1="211.65" y1="335.80" x2="218.85" y2="335.80" stroke="#000" stroke-width="1.20"/>
<rect x="208.50" y="337.80" width="13.50" height="59.20" fill="#5c5c5c" stroke="#000" stroke-width="1.25"/>
<line x1="215.25" y1="397.00" x2="215.25" y2="399.50" stroke="#000" stroke-width="1.00"/>
<line x1="235.62" y1="339.20" x2="235.62" y2="338.00" stroke="#000" stroke-width="1.00"/>
<line x1="232.03" y1="338.00" x2="239.22" y2="338.00" stroke="#000" stroke-width="1.20"/>
<rect x="228.75" y="339.20" width="13.75" height="57.80" fill="#000000" stroke="#000" stroke-width="1.25"/>
<line x1="235.62" y1="397.00" x2="235.62" y2="399.50" stroke="#000" stroke-width="1.00"/>
<line x1="162.00" y1="332.50" x2="162.00" y2="397.50" stroke="#000" stroke-width="1.25"/>
<line x1="161.50" y1="397.00" x2="246.00" y2="397.00" stroke="#000" stroke-width="1.25"/>
<line x1="160.00" y1="334.60" x2="162.00" y2="334.60" stroke="#000" stroke-width="1.00"/>
<text transform="translate(160.00 338.54) scale(0.875 1)" font-size="11.0" text-anchor="end">60</text>
<line x1="160.00" y1="355.40" x2="162.00" y2="355.40" stroke="#000" stroke-width="1.00"/>
<text transform="translate(160.00 359.34) scale(0.875 1)" font-size="11.0" text-anchor="end">40</text>
<line x1="160.00" y1="376.20" x2="162.00" y2="376.20" stroke="#000" stroke-width="1.00"/>
<text transform="translate(160.00 380.14) scale(0.875 1)" font-size="11.0" text-anchor="end">20</text>
<line x1="160.00" y1="397.00" x2="162.00" y2="397.00" stroke="#000" stroke-width="1.00"/>
<text transform="translate(160.00 400.94) scale(0.875 1)" font-size="11.0" text-anchor="end">0</text>
<line x1="274.00" y1="362.00" x2="274.00" y2="360.00" stroke="#000" stroke-width="1.00"/>
<line x1="270.40" y1="360.00" x2="277.60" y2="360.00" stroke="#000" stroke-width="1.20"/>
<rect x="267.50" y="362.00" width="13.00" height="35.00" fill="#ffffff" stroke="#000" stroke-width="1.25"/>
<line x1="274.00" y1="397.00" x2="274.00" y2="399.50" stroke="#000" stroke-width="1.00"/>
<line x1="294.62" y1="359.25" x2="294.62" y2="358.00" stroke="#000" stroke-width="1.00"/>
<line x1="291.02" y1="358.00" x2="298.23" y2="358.00" stroke="#000" stroke-width="1.20"/>
<rect x="288.00" y="359.25" width="13.25" height="37.75" fill="#dadada" stroke="#000" stroke-width="1.25"/>
<line x1="294.62" y1="397.00" x2="294.62" y2="399.50" stroke="#000" stroke-width="1.00"/>
<line x1="315.00" y1="364.25" x2="315.00" y2="361.25" stroke="#000" stroke-width="1.00"/>
<line x1="311.40" y1="361.25" x2="318.60" y2="361.25" stroke="#000" stroke-width="1.20"/>
<rect x="308.50" y="364.25" width="13.00" height="32.75" fill="#5c5c5c" stroke="#000" stroke-width="1.25"/>
<line x1="315.00" y1="397.00" x2="315.00" y2="399.50" stroke="#000" stroke-width="1.00"/>
<line x1="335.38" y1="349.50" x2="335.38" y2="348.75" stroke="#000" stroke-width="1.00"/>
<line x1="331.77" y1="348.75" x2="338.98" y2="348.75" stroke="#000" stroke-width="1.20"/>
<rect x="328.75" y="349.50" width="13.25" height="47.50" fill="#000000" stroke="#000" stroke-width="1.25"/>
<line x1="335.38" y1="397.00" x2="335.38" y2="399.50" stroke="#000" stroke-width="1.00"/>
<line x1="263.75" y1="332.50" x2="263.75" y2="397.50" stroke="#000" stroke-width="1.25"/>
<line x1="263.25" y1="397.00" x2="345.50" y2="397.00" stroke="#000" stroke-width="1.25"/>
<line x1="261.75" y1="334.60" x2="263.75" y2="334.60" stroke="#000" stroke-width="1.00"/>
<text transform="translate(261.75 338.54) scale(0.875 1)" font-size="11.0" text-anchor="end">40</text>
<line x1="261.75" y1="350.20" x2="263.75" y2="350.20" stroke="#000" stroke-width="1.00"/>
<text transform="translate(261.75 354.14) scale(0.875 1)" font-size="11.0" text-anchor="end">30</text>
<line x1="261.75" y1="365.80" x2="263.75" y2="365.80" stroke="#000" stroke-width="1.00"/>
<text transform="translate(261.75 369.74) scale(0.875 1)" font-size="11.0" text-anchor="end">20</text>
<line x1="261.75" y1="381.40" x2="263.75" y2="381.40" stroke="#000" stroke-width="1.00"/>
<text transform="translate(261.75 385.34) scale(0.875 1)" font-size="11.0" text-anchor="end">10</text>
<line x1="261.75" y1="397.00" x2="263.75" y2="397.00" stroke="#000" stroke-width="1.00"/>
<text transform="translate(261.75 400.94) scale(0.875 1)" font-size="11.0" text-anchor="end">0</text>
<line x1="273.75" y1="338.25" x2="334.50" y2="338.25" stroke="#000" stroke-width="1.25" stroke-dasharray="2.2 1"/>
<text transform="translate(303.75 343.04) scale(0.950 1)" font-size="12.0" text-anchor="middle" font-weight="bold" stroke-width="0.15">**</text>
<line x1="315.75" y1="346.80" x2="334.50" y2="346.80" stroke="#000" stroke-width="1.25" stroke-dasharray="2.2 1"/>
<text transform="translate(325.00 349.24) scale(0.950 1)" font-size="12.0" text-anchor="middle" font-weight="bold" stroke-width="0.15">***</text>
<line x1="373.38" y1="343.40" x2="373.38" y2="338.40" stroke="#000" stroke-width="1.00"/>
<line x1="369.77" y1="338.40" x2="376.98" y2="338.40" stroke="#000" stroke-width="1.20"/>
<rect x="366.75" y="343.40" width="13.25" height="53.60" fill="#ffffff" stroke="#000" stroke-width="1.25"/>
<line x1="373.38" y1="397.00" x2="373.38" y2="399.50" stroke="#000" stroke-width="1.00"/>
<line x1="394.12" y1="353.50" x2="394.12" y2="349.70" stroke="#000" stroke-width="1.00"/>
<line x1="390.52" y1="349.70" x2="397.73" y2="349.70" stroke="#000" stroke-width="1.20"/>
<rect x="387.50" y="353.50" width="13.25" height="43.50" fill="#dadada" stroke="#000" stroke-width="1.25"/>
<line x1="394.12" y1="397.00" x2="394.12" y2="399.50" stroke="#000" stroke-width="1.00"/>
<line x1="414.75" y1="349.70" x2="414.75" y2="345.00" stroke="#000" stroke-width="1.00"/>
<line x1="411.15" y1="345.00" x2="418.35" y2="345.00" stroke="#000" stroke-width="1.20"/>
<rect x="408.00" y="349.70" width="13.50" height="47.30" fill="#5c5c5c" stroke="#000" stroke-width="1.25"/>
<line x1="414.75" y1="397.00" x2="414.75" y2="399.50" stroke="#000" stroke-width="1.00"/>
<line x1="435.25" y1="364.60" x2="435.25" y2="360.90" stroke="#000" stroke-width="1.00"/>
<line x1="431.65" y1="360.90" x2="438.85" y2="360.90" stroke="#000" stroke-width="1.20"/>
<rect x="428.50" y="364.60" width="13.50" height="32.40" fill="#000000" stroke="#000" stroke-width="1.25"/>
<line x1="435.25" y1="397.00" x2="435.25" y2="399.50" stroke="#000" stroke-width="1.00"/>
<line x1="363.00" y1="332.50" x2="363.00" y2="397.50" stroke="#000" stroke-width="1.25"/>
<line x1="362.50" y1="397.00" x2="445.50" y2="397.00" stroke="#000" stroke-width="1.25"/>
<line x1="361.00" y1="334.90" x2="363.00" y2="334.90" stroke="#000" stroke-width="1.00"/>
<text transform="translate(361.00 338.84) scale(0.875 1)" font-size="11.0" text-anchor="end">30</text>
<line x1="361.00" y1="355.60" x2="363.00" y2="355.60" stroke="#000" stroke-width="1.00"/>
<text transform="translate(361.00 359.54) scale(0.875 1)" font-size="11.0" text-anchor="end">20</text>
<line x1="361.00" y1="376.30" x2="363.00" y2="376.30" stroke="#000" stroke-width="1.00"/>
<text transform="translate(361.00 380.24) scale(0.875 1)" font-size="11.0" text-anchor="end">10</text>
<line x1="361.00" y1="397.00" x2="363.00" y2="397.00" stroke="#000" stroke-width="1.00"/>
<text transform="translate(361.00 400.94) scale(0.875 1)" font-size="11.0" text-anchor="end">0</text>
<line x1="373.75" y1="336.75" x2="433.25" y2="336.75" stroke="#000" stroke-width="1.25" stroke-dasharray="2.2 1"/>
<text transform="translate(401.25 340.54) scale(0.950 1)" font-size="12.0" text-anchor="middle" font-weight="bold" stroke-width="0.15">*</text>
<text transform="translate(7.50 409.79)" font-size="11.8" font-style="italic" textLength="22.5" lengthAdjust="spacingAndGlyphs">Cdk4</text>
<text transform="translate(7.50 423.19)" font-size="11.8" font-style="italic" textLength="22.5" lengthAdjust="spacingAndGlyphs">Cdk6</text>
<text transform="translate(35.80 409.79)" font-size="11.8" textLength="20.2" lengthAdjust="spacingAndGlyphs">(+/+)</text>
<text transform="translate(56.72 409.79)" font-size="11.8" textLength="22.3" lengthAdjust="spacingAndGlyphs">(R/R)</text>
<text transform="translate(79.73 409.79)" font-size="11.8" textLength="20.2" lengthAdjust="spacingAndGlyphs">(+/+)</text>
<text transform="translate(100.66 409.79)" font-size="11.8" textLength="22.3" lengthAdjust="spacingAndGlyphs">(R/R)</text>
<text transform="translate(35.80 423.19)" font-size="11.8" textLength="20.2" lengthAdjust="spacingAndGlyphs">(+/+)</text>
<text transform="translate(57.77 423.19)" font-size="11.8" textLength="20.2" lengthAdjust="spacingAndGlyphs">(+/+)</text>
<text transform="translate(78.69 423.19)" font-size="11.8" textLength="22.3" lengthAdjust="spacingAndGlyphs">(R/R)</text>
<text transform="translate(100.66 423.19)" font-size="11.8" textLength="22.3" lengthAdjust="spacingAndGlyphs">(R/R)</text>
<text transform="translate(137.40 409.79)" font-size="11.8" font-style="italic" textLength="22.9" lengthAdjust="spacingAndGlyphs">Cdk4</text>
<text transform="translate(137.40 423.19)" font-size="11.8" font-style="italic" textLength="22.9" lengthAdjust="spacingAndGlyphs">Cdk6</text>
<text transform="translate(165.30 409.79)" font-size="11.8" textLength="19.6" lengthAdjust="spacingAndGlyphs">(+/+)</text>
<text transform="translate(185.62 409.79)" font-size="11.8" textLength="21.6" lengthAdjust="spacingAndGlyphs">(R/R)</text>
<text transform="translate(207.97 409.79)" font-size="11.8" textLength="19.6" lengthAdjust="spacingAndGlyphs">(+/+)</text>
<text transform="translate(228.29 409.79)" font-size="11.8" textLength="21.6" lengthAdjust="spacingAndGlyphs">(R/R)</text>
<text transform="translate(165.30 423.19)" font-size="11.8" textLength="19.6" lengthAdjust="spacingAndGlyphs">(+/+)</text>
<text transform="translate(186.64 423.19)" font-size="11.8" textLength="19.6" lengthAdjust="spacingAndGlyphs">(+/+)</text>
<text transform="translate(206.96 423.19)" font-size="11.8" textLength="21.6" lengthAdjust="spacingAndGlyphs">(R/R)</text>
<text transform="translate(228.29 423.19)" font-size="11.8" textLength="21.6" lengthAdjust="spacingAndGlyphs">(R/R)</text>
<text transform="translate(265.30 409.79)" font-size="11.8" textLength="19.7" lengthAdjust="spacingAndGlyphs">(+/+)</text>
<text transform="translate(285.74 409.79)" font-size="11.8" textLength="21.8" lengthAdjust="spacingAndGlyphs">(R/R)</text>
<text transform="translate(308.23 409.79)" font-size="11.8" textLength="19.7" lengthAdjust="spacingAndGlyphs">(+/+)</text>
<text transform="translate(328.67 409.79)" font-size="11.8" textLength="21.8" lengthAdjust="spacingAndGlyphs">(R/R)</text>
<text transform="translate(265.30 423.19)" font-size="11.8" textLength="19.7" lengthAdjust="spacingAndGlyphs">(+/+)</text>
<text transform="translate(286.76 423.19)" font-size="11.8" textLength="19.7" lengthAdjust="spacingAndGlyphs">(+/+)</text>
<text transform="translate(307.21 423.19)" font-size="11.8" textLength="21.8" lengthAdjust="spacingAndGlyphs">(R/R)</text>
<text transform="translate(328.67 423.19)" font-size="11.8" textLength="21.8" lengthAdjust="spacingAndGlyphs">(R/R)</text>
<text transform="translate(367.10 409.79)" font-size="11.8" textLength="19.5" lengthAdjust="spacingAndGlyphs">(+/+)</text>
<text transform="translate(387.35 409.79)" font-size="11.8" textLength="21.6" lengthAdjust="spacingAndGlyphs">(R/R)</text>
<text transform="translate(409.62 409.79)" font-size="11.8" textLength="19.5" lengthAdjust="spacingAndGlyphs">(+/+)</text>
<text transform="translate(429.87 409.79)" font-size="11.8" textLength="21.6" lengthAdjust="spacingAndGlyphs">(R/R)</text>
<text transform="translate(367.10 423.19)" font-size="11.8" textLength="19.5" lengthAdjust="spacingAndGlyphs">(+/+)</text>
<text transform="translate(388.36 423.19)" font-size="11.8" textLength="19.5" lengthAdjust="spacingAndGlyphs">(+/+)</text>
<text transform="translate(408.61 423.19)" font-size="11.8" textLength="21.6" lengthAdjust="spacingAndGlyphs">(R/R)</text>
<text transform="translate(429.87 423.19)" font-size="11.8" textLength="21.6" lengthAdjust="spacingAndGlyphs">(R/R)</text>
<text transform="translate(-2.50 450.60) scale(1.000 1)" font-size="17.5" text-anchor="start" font-weight="bold">C</text>
<text transform="translate(81.25 461.44) scale(0.875 1)" font-size="11.0" text-anchor="middle">LSK</text>
<text transform="translate(196.25 460.44) scale(0.875 1)" font-size="11.0" text-anchor="middle">A: CD150<tspan dy="-3.0" font-size="6.8">+</tspan><tspan dy="3.0"> CD48</tspan><tspan dy="-3.0" font-size="6.8">−</tspan></text>
<text transform="translate(298.75 460.44) scale(0.875 1)" font-size="11.0" text-anchor="middle">B: CD150<tspan dy="-3.0" font-size="6.8">+</tspan><tspan dy="3.0"> CD48</tspan><tspan dy="-3.0" font-size="6.8">+</tspan></text>
<text transform="translate(410.00 460.44) scale(0.875 1)" font-size="11.0" text-anchor="middle">C: CD150<tspan dy="-3.0" font-size="6.8">−</tspan><tspan dy="3.0"> CD48</tspan><tspan dy="-3.0" font-size="6.8">+</tspan></text>
<text transform="translate(10.44 499.20) rotate(-90) scale(0.875 1)" font-size="11.0" text-anchor="middle">Percentage of cells</text>
<text transform="translate(24.94 498.60) rotate(-90) scale(0.875 1)" font-size="11.0" text-anchor="middle">(x10−3)</text>
<line x1="58.25" y1="488.00" x2="58.25" y2="482.50" stroke="#000" stroke-width="1.00"/>
<line x1="54.65" y1="482.50" x2="61.85" y2="482.50" stroke="#000" stroke-width="1.20"/>
<rect x="51.75" y="488.00" width="13.00" height="46.50" fill="#ffffff" stroke="#000" stroke-width="1.25"/>
<line x1="58.25" y1="534.50" x2="58.25" y2="537.00" stroke="#000" stroke-width="1.00"/>
<line x1="78.25" y1="510.00" x2="78.25" y2="508.75" stroke="#000" stroke-width="1.00"/>
<line x1="74.65" y1="508.75" x2="81.85" y2="508.75" stroke="#000" stroke-width="1.20"/>
<rect x="71.75" y="510.00" width="13.00" height="24.50" fill="#dadada" stroke="#000" stroke-width="1.25"/>
<line x1="78.25" y1="534.50" x2="78.25" y2="537.00" stroke="#000" stroke-width="1.00"/>
<line x1="98.25" y1="505.50" x2="98.25" y2="500.75" stroke="#000" stroke-width="1.00"/>
<line x1="94.65" y1="500.75" x2="101.85" y2="500.75" stroke="#000" stroke-width="1.20"/>
<rect x="91.75" y="505.50" width="13.00" height="29.00" fill="#5c5c5c" stroke="#000" stroke-width="1.25"/>
<line x1="98.25" y1="534.50" x2="98.25" y2="537.00" stroke="#000" stroke-width="1.00"/>
<line x1="117.75" y1="487.50" x2="117.75" y2="486.50" stroke="#000" stroke-width="1.00"/>
<line x1="114.15" y1="486.50" x2="121.35" y2="486.50" stroke="#000" stroke-width="1.20"/>
<rect x="111.25" y="487.50" width="13.00" height="47.00" fill="#000000" stroke="#000" stroke-width="1.25"/>
<line x1="117.75" y1="534.50" x2="117.75" y2="537.00" stroke="#000" stroke-width="1.00"/>
<line x1="47.50" y1="468.00" x2="47.50" y2="535.00" stroke="#000" stroke-width="1.25"/>
<line x1="47.00" y1="534.50" x2="127.75" y2="534.50" stroke="#000" stroke-width="1.25"/>
<line x1="45.50" y1="471.50" x2="47.50" y2="471.50" stroke="#000" stroke-width="1.00"/>
<text transform="translate(44.50 475.74) scale(0.875 1)" font-size="11.0" text-anchor="end">200</text>
<line x1="45.50" y1="486.00" x2="47.50" y2="486.00" stroke="#000" stroke-width="1.00"/>
<text transform="translate(44.50 490.24) scale(0.875 1)" font-size="11.0" text-anchor="end">105</text>
<line x1="45.50" y1="501.80" x2="47.50" y2="501.80" stroke="#000" stroke-width="1.00"/>
<text transform="translate(44.50 506.04) scale(0.875 1)" font-size="11.0" text-anchor="end">100</text>
<line x1="45.50" y1="517.50" x2="47.50" y2="517.50" stroke="#000" stroke-width="1.00"/>
<text transform="translate(44.50 521.74) scale(0.875 1)" font-size="11.0" text-anchor="end">50</text>
<line x1="45.50" y1="533.00" x2="47.50" y2="533.00" stroke="#000" stroke-width="1.00"/>
<text transform="translate(44.50 537.24) scale(0.875 1)" font-size="11.0" text-anchor="end">0</text>
<line x1="57.50" y1="468.75" x2="95.50" y2="468.75" stroke="#000" stroke-width="1.25" stroke-dasharray="2.2 1"/>
<text transform="translate(77.00 471.04) scale(0.950 1)" font-size="12.0" text-anchor="middle" font-weight="bold" stroke-width="0.15">*</text>
<line x1="77.00" y1="476.75" x2="117.50" y2="476.75" stroke="#000" stroke-width="1.25" stroke-dasharray="2.2 1"/>
<text transform="translate(97.00 478.54) scale(0.950 1)" font-size="12.0" text-anchor="middle" font-weight="bold" stroke-width="0.15">*</text>
<line x1="57.50" y1="480.00" x2="75.00" y2="480.00" stroke="#000" stroke-width="1.25" stroke-dasharray="2.2 1"/>
<text transform="translate(66.25 483.04) scale(0.950 1)" font-size="12.0" text-anchor="middle" font-weight="bold" stroke-width="0.15">**</text>
<line x1="96.25" y1="485.00" x2="117.50" y2="485.00" stroke="#000" stroke-width="1.25" stroke-dasharray="2.2 1"/>
<text transform="translate(108.25 488.04) scale(0.950 1)" font-size="12.0" text-anchor="middle" font-weight="bold" stroke-width="0.15">*</text>
<line x1="167.75" y1="495.50" x2="167.75" y2="488.75" stroke="#000" stroke-width="1.00"/>
<line x1="164.15" y1="488.75" x2="171.35" y2="488.75" stroke="#000" stroke-width="1.20"/>
<rect x="161.25" y="495.50" width="13.00" height="39.00" fill="#ffffff" stroke="#000" stroke-width="1.25"/>
<line x1="167.75" y1="534.50" x2="167.75" y2="537.00" stroke="#000" stroke-width="1.00"/>
<line x1="187.75" y1="510.50" x2="187.75" y2="508.25" stroke="#000" stroke-width="1.00"/>
<line x1="184.15" y1="508.25" x2="191.35" y2="508.25" stroke="#000" stroke-width="1.20"/>
<rect x="181.25" y="510.50" width="13.00" height="24.00" fill="#dadada" stroke="#000" stroke-width="1.25"/>
<line x1="187.75" y1="534.50" x2="187.75" y2="537.00" stroke="#000" stroke-width="1.00"/>
<line x1="207.50" y1="518.00" x2="207.50" y2="515.50" stroke="#000" stroke-width="1.00"/>
<line x1="203.90" y1="515.50" x2="211.10" y2="515.50" stroke="#000" stroke-width="1.20"/>
<rect x="201.00" y="518.00" width="13.00" height="16.50" fill="#5c5c5c" stroke="#000" stroke-width="1.25"/>
<line x1="207.50" y1="534.50" x2="207.50" y2="537.00" stroke="#000" stroke-width="1.00"/>
<line x1="227.00" y1="488.00" x2="227.00" y2="478.25" stroke="#000" stroke-width="1.00"/>
<line x1="223.40" y1="478.25" x2="230.60" y2="478.25" stroke="#000" stroke-width="1.20"/>
<rect x="220.50" y="488.00" width="13.00" height="46.50" fill="#000000" stroke="#000" stroke-width="1.25"/>
<line x1="227.00" y1="534.50" x2="227.00" y2="537.00" stroke="#000" stroke-width="1.00"/>
<line x1="157.50" y1="469.50" x2="157.50" y2="535.00" stroke="#000" stroke-width="1.25"/>
<line x1="157.00" y1="534.50" x2="237.00" y2="534.50" stroke="#000" stroke-width="1.25"/>
<line x1="155.50" y1="471.50" x2="157.50" y2="471.50" stroke="#000" stroke-width="1.00"/>
<text transform="translate(153.50 475.94) scale(0.875 1)" font-size="11.0" text-anchor="end">2.0</text>
<line x1="155.50" y1="487.25" x2="157.50" y2="487.25" stroke="#000" stroke-width="1.00"/>
<text transform="translate(153.50 491.69) scale(0.875 1)" font-size="11.0" text-anchor="end">1.5</text>
<line x1="155.50" y1="503.00" x2="157.50" y2="503.00" stroke="#000" stroke-width="1.00"/>
<text transform="translate(153.50 507.44) scale(0.875 1)" font-size="11.0" text-anchor="end">1.0</text>
<line x1="155.50" y1="518.75" x2="157.50" y2="518.75" stroke="#000" stroke-width="1.00"/>
<text transform="translate(153.50 523.19) scale(0.875 1)" font-size="11.0" text-anchor="end">0.5</text>
<line x1="155.50" y1="534.50" x2="157.50" y2="534.50" stroke="#000" stroke-width="1.00"/>
<text transform="translate(153.50 538.94) scale(0.875 1)" font-size="11.0" text-anchor="end">0.0</text>
<line x1="167.50" y1="485.75" x2="208.75" y2="485.75" stroke="#000" stroke-width="1.25" stroke-dasharray="2.2 1"/>
<text transform="translate(188.75 488.04) scale(0.950 1)" font-size="12.0" text-anchor="middle" font-weight="bold" stroke-width="0.15">*</text>
<line x1="206.25" y1="475.00" x2="226.25" y2="475.00" stroke="#000" stroke-width="1.25" stroke-dasharray="2.2 1"/>
<text transform="translate(216.75 477.04) scale(0.950 1)" font-size="12.0" text-anchor="middle" font-weight="bold" stroke-width="0.15">*</text>
<line x1="269.12" y1="492.50" x2="269.12" y2="484.20" stroke="#000" stroke-width="1.00"/>
<line x1="265.52" y1="484.20" x2="272.73" y2="484.20" stroke="#000" stroke-width="1.20"/>
<rect x="262.75" y="492.50" width="12.75" height="42.30" fill="#ffffff" stroke="#000" stroke-width="1.25"/>
<line x1="269.12" y1="534.80" x2="269.12" y2="537.30" stroke="#000" stroke-width="1.00"/>
<line x1="288.88" y1="508.00" x2="288.88" y2="505.00" stroke="#000" stroke-width="1.00"/>
<line x1="285.27" y1="505.00" x2="292.48" y2="505.00" stroke="#000" stroke-width="1.20"/>
<rect x="282.50" y="508.00" width="12.75" height="26.80" fill="#dadada" stroke="#000" stroke-width="1.25"/>
<line x1="288.88" y1="534.80" x2="288.88" y2="537.30" stroke="#000" stroke-width="1.00"/>
<line x1="308.38" y1="512.20" x2="308.38" y2="508.70" stroke="#000" stroke-width="1.00"/>
<line x1="304.77" y1="508.70" x2="311.98" y2="508.70" stroke="#000" stroke-width="1.20"/>
<rect x="302.00" y="512.20" width="12.75" height="22.60" fill="#5c5c5c" stroke="#000" stroke-width="1.25"/>
<line x1="308.38" y1="534.80" x2="308.38" y2="537.30" stroke="#000" stroke-width="1.00"/>
<line x1="328.12" y1="488.50" x2="328.12" y2="478.70" stroke="#000" stroke-width="1.00"/>
<line x1="324.52" y1="478.70" x2="331.73" y2="478.70" stroke="#000" stroke-width="1.20"/>
<rect x="321.75" y="488.50" width="12.75" height="46.30" fill="#000000" stroke="#000" stroke-width="1.25"/>
<line x1="328.12" y1="534.80" x2="328.12" y2="537.30" stroke="#000" stroke-width="1.00"/>
<line x1="259.50" y1="469.30" x2="259.50" y2="535.30" stroke="#000" stroke-width="1.25"/>
<line x1="259.00" y1="534.80" x2="338.00" y2="534.80" stroke="#000" stroke-width="1.25"/>
<line x1="257.50" y1="475.30" x2="259.50" y2="475.30" stroke="#000" stroke-width="1.00"/>
<text transform="translate(255.50 479.82) scale(0.900 1)" font-size="11.5" text-anchor="end">4</text>
<line x1="257.50" y1="490.30" x2="259.50" y2="490.30" stroke="#000" stroke-width="1.00"/>
<text transform="translate(255.50 494.82) scale(0.900 1)" font-size="11.5" text-anchor="end">3</text>
<line x1="257.50" y1="505.00" x2="259.50" y2="505.00" stroke="#000" stroke-width="1.00"/>
<text transform="translate(255.50 509.52) scale(0.900 1)" font-size="11.5" text-anchor="end">2</text>
<line x1="257.50" y1="519.80" x2="259.50" y2="519.80" stroke="#000" stroke-width="1.00"/>
<text transform="translate(255.50 524.32) scale(0.900 1)" font-size="11.5" text-anchor="end">1</text>
<line x1="257.50" y1="534.60" x2="259.50" y2="534.60" stroke="#000" stroke-width="1.00"/>
<text transform="translate(255.50 539.12) scale(0.900 1)" font-size="11.5" text-anchor="end">0</text>
<line x1="382.50" y1="487.60" x2="382.50" y2="481.40" stroke="#000" stroke-width="1.00"/>
<line x1="378.90" y1="481.40" x2="386.10" y2="481.40" stroke="#000" stroke-width="1.20"/>
<rect x="376.00" y="487.60" width="13.00" height="48.00" fill="#ffffff" stroke="#000" stroke-width="1.25"/>
<line x1="382.50" y1="535.60" x2="382.50" y2="538.10" stroke="#000" stroke-width="1.00"/>
<line x1="402.88" y1="510.60" x2="402.88" y2="508.80" stroke="#000" stroke-width="1.00"/>
<line x1="399.27" y1="508.80" x2="406.48" y2="508.80" stroke="#000" stroke-width="1.20"/>
<rect x="396.50" y="510.60" width="12.75" height="25.00" fill="#dadada" stroke="#000" stroke-width="1.25"/>
<line x1="402.88" y1="535.60" x2="402.88" y2="538.10" stroke="#000" stroke-width="1.00"/>
<line x1="423.12" y1="504.70" x2="423.12" y2="499.30" stroke="#000" stroke-width="1.00"/>
<line x1="419.52" y1="499.30" x2="426.73" y2="499.30" stroke="#000" stroke-width="1.20"/>
<rect x="416.75" y="504.70" width="12.75" height="30.90" fill="#5c5c5c" stroke="#000" stroke-width="1.25"/>
<line x1="423.12" y1="535.60" x2="423.12" y2="538.10" stroke="#000" stroke-width="1.00"/>
<line x1="442.88" y1="491.90" x2="442.88" y2="489.90" stroke="#000" stroke-width="1.00"/>
<line x1="439.27" y1="489.90" x2="446.48" y2="489.90" stroke="#000" stroke-width="1.20"/>
<rect x="436.25" y="491.90" width="13.25" height="43.70" fill="#000000" stroke="#000" stroke-width="1.25"/>
<line x1="442.88" y1="535.60" x2="442.88" y2="538.10" stroke="#000" stroke-width="1.00"/>
<line x1="373.40" y1="470.50" x2="373.40" y2="536.10" stroke="#000" stroke-width="1.25"/>
<line x1="372.90" y1="535.60" x2="453.00" y2="535.60" stroke="#000" stroke-width="1.25"/>
<line x1="371.40" y1="476.30" x2="373.40" y2="476.30" stroke="#000" stroke-width="1.00"/>
<text transform="translate(369.65 480.64) scale(0.875 1)" font-size="11.0" text-anchor="end">150</text>
<line x1="371.40" y1="494.80" x2="373.40" y2="494.80" stroke="#000" stroke-width="1.00"/>
<text transform="translate(369.65 499.14) scale(0.875 1)" font-size="11.0" text-anchor="end">100</text>
<line x1="371.40" y1="515.00" x2="373.40" y2="515.00" stroke="#000" stroke-width="1.00"/>
<text transform="translate(369.65 519.34) scale(0.875 1)" font-size="11.0" text-anchor="end">50</text>
<line x1="371.40" y1="535.60" x2="373.40" y2="535.60" stroke="#000" stroke-width="1.00"/>
<text transform="translate(369.65 539.94) scale(0.875 1)" font-size="11.0" text-anchor="end">0</text>
<line x1="382.80" y1="477.20" x2="405.20" y2="477.20" stroke="#000" stroke-width="1.25" stroke-dasharray="2.2 1"/>
<text transform="translate(394.50 479.24) scale(0.950 1)" font-size="12.0" text-anchor="middle" font-weight="bold" stroke-width="0.15">*</text>
<text transform="translate(18.40 546.79)" font-size="11.8" font-style="italic" textLength="22.0" lengthAdjust="spacingAndGlyphs">Cdk4</text>
<text transform="translate(18.40 559.79)" font-size="11.8" font-style="italic" textLength="22.0" lengthAdjust="spacingAndGlyphs">Cdk6</text>
<text transform="translate(45.60 546.79)" font-size="11.8" textLength="20.0" lengthAdjust="spacingAndGlyphs">(+/+)</text>
<text transform="translate(66.33 546.79)" font-size="11.8" textLength="22.1" lengthAdjust="spacingAndGlyphs">(R/R)</text>
<text transform="translate(89.13 546.79)" font-size="11.8" textLength="20.0" lengthAdjust="spacingAndGlyphs">(+/+)</text>
<text transform="translate(109.86 546.79)" font-size="11.8" textLength="22.1" lengthAdjust="spacingAndGlyphs">(R/R)</text>
<text transform="translate(45.60 559.79)" font-size="11.8" textLength="20.0" lengthAdjust="spacingAndGlyphs">(+/+)</text>
<text transform="translate(67.37 559.79)" font-size="11.8" textLength="20.0" lengthAdjust="spacingAndGlyphs">(+/+)</text>
<text transform="translate(88.10 559.79)" font-size="11.8" textLength="22.1" lengthAdjust="spacingAndGlyphs">(R/R)</text>
<text transform="translate(109.86 559.79)" font-size="11.8" textLength="22.1" lengthAdjust="spacingAndGlyphs">(R/R)</text>
<text transform="translate(156.30 546.79)" font-size="11.8" textLength="19.8" lengthAdjust="spacingAndGlyphs">(+/+)</text>
<text transform="translate(176.86 546.79)" font-size="11.8" textLength="21.9" lengthAdjust="spacingAndGlyphs">(R/R)</text>
<text transform="translate(199.48 546.79)" font-size="11.8" textLength="19.8" lengthAdjust="spacingAndGlyphs">(+/+)</text>
<text transform="translate(220.04 546.79)" font-size="11.8" textLength="21.9" lengthAdjust="spacingAndGlyphs">(R/R)</text>
<text transform="translate(156.30 559.79)" font-size="11.8" textLength="19.8" lengthAdjust="spacingAndGlyphs">(+/+)</text>
<text transform="translate(177.89 559.79)" font-size="11.8" textLength="19.8" lengthAdjust="spacingAndGlyphs">(+/+)</text>
<text transform="translate(198.45 559.79)" font-size="11.8" textLength="21.9" lengthAdjust="spacingAndGlyphs">(R/R)</text>
<text transform="translate(220.04 559.79)" font-size="11.8" textLength="21.9" lengthAdjust="spacingAndGlyphs">(R/R)</text>
<text transform="translate(259.30 546.79)" font-size="11.8" textLength="19.8" lengthAdjust="spacingAndGlyphs">(+/+)</text>
<text transform="translate(279.86 546.79)" font-size="11.8" textLength="21.9" lengthAdjust="spacingAndGlyphs">(R/R)</text>
<text transform="translate(302.48 546.79)" font-size="11.8" textLength="19.8" lengthAdjust="spacingAndGlyphs">(+/+)</text>
<text transform="translate(323.04 546.79)" font-size="11.8" textLength="21.9" lengthAdjust="spacingAndGlyphs">(R/R)</text>
<text transform="translate(259.30 559.79)" font-size="11.8" textLength="19.8" lengthAdjust="spacingAndGlyphs">(+/+)</text>
<text transform="translate(280.89 559.79)" font-size="11.8" textLength="19.8" lengthAdjust="spacingAndGlyphs">(+/+)</text>
<text transform="translate(301.45 559.79)" font-size="11.8" textLength="21.9" lengthAdjust="spacingAndGlyphs">(R/R)</text>
<text transform="translate(323.04 559.79)" font-size="11.8" textLength="21.9" lengthAdjust="spacingAndGlyphs">(R/R)</text>
<text transform="translate(371.80 546.79)" font-size="11.8" textLength="19.7" lengthAdjust="spacingAndGlyphs">(+/+)</text>
<text transform="translate(392.24 546.79)" font-size="11.8" textLength="21.8" lengthAdjust="spacingAndGlyphs">(R/R)</text>
<text transform="translate(414.73 546.79)" font-size="11.8" textLength="19.7" lengthAdjust="spacingAndGlyphs">(+/+)</text>
<text transform="translate(435.17 546.79)" font-size="11.8" textLength="21.8" lengthAdjust="spacingAndGlyphs">(R/R)</text>
<text transform="translate(371.80 559.79)" font-size="11.8" textLength="19.7" lengthAdjust="spacingAndGlyphs">(+/+)</text>
<text transform="translate(393.26 559.79)" font-size="11.8" textLength="19.7" lengthAdjust="spacingAndGlyphs">(+/+)</text>
<text transform="translate(413.71 559.79)" font-size="11.8" textLength="21.8" lengthAdjust="spacingAndGlyphs">(R/R)</text>
<text transform="translate(435.17 559.79)" font-size="11.8" textLength="21.8" lengthAdjust="spacingAndGlyphs">(R/R)</text>
<text transform="translate(-2.50 596.70) scale(1.050 1)" font-size="16.8" text-anchor="start" font-weight="bold">D</text>
<text transform="translate(80.50 593.94) scale(0.875 1)" font-size="11.0" text-anchor="middle">HSC</text>
<text transform="translate(78.50 605.24) scale(0.890 1)" font-size="11.0" text-anchor="middle">CD150<tspan dy="-3.0" font-size="6.8">+</tspan><tspan dy="3.0"> CD48</tspan><tspan dy="-3.0" font-size="6.8">−</tspan></text>
<text transform="translate(78.50 618.04) scale(0.890 1)" font-size="11.0" text-anchor="middle">CD34<tspan dy="-3.0" font-size="6.8">−</tspan></text>
<text transform="translate(178.00 593.94) scale(0.875 1)" font-size="11.0" text-anchor="middle">MPP1</text>
<text transform="translate(178.00 605.24) scale(0.890 1)" font-size="11.0" text-anchor="middle">CD150<tspan dy="-3.0" font-size="6.8">+</tspan><tspan dy="3.0"> CD48</tspan><tspan dy="-3.0" font-size="6.8">−</tspan></text>
<text transform="translate(178.00 618.04) scale(0.890 1)" font-size="11.0" text-anchor="middle">CD34<tspan dy="-3.0" font-size="6.8">+</tspan></text>
<text transform="translate(271.00 593.94) scale(0.875 1)" font-size="11.0" text-anchor="middle">MPP2</text>
<text transform="translate(271.00 605.24) scale(0.890 1)" font-size="11.0" text-anchor="middle">CD150<tspan dy="-3.0" font-size="6.8">+</tspan><tspan dy="3.0"> CD48</tspan><tspan dy="-3.0" font-size="6.8">+</tspan></text>
<text transform="translate(271.00 618.04) scale(0.890 1)" font-size="11.0" text-anchor="middle">CD34<tspan dy="-3.0" font-size="6.8">+</tspan></text>
<text transform="translate(374.50 593.94) scale(0.875 1)" font-size="11.0" text-anchor="middle">MPP3</text>
<text transform="translate(374.50 605.24) scale(0.890 1)" font-size="11.0" text-anchor="middle">CD150<tspan dy="-3.0" font-size="6.8">−</tspan><tspan dy="3.0"> CD48</tspan><tspan dy="-3.0" font-size="6.8">+</tspan></text>
<text transform="translate(374.50 618.04) scale(0.890 1)" font-size="11.0" text-anchor="middle">CD34<tspan dy="-3.0" font-size="6.8">+</tspan></text>
<text transform="translate(475.50 593.94) scale(0.875 1)" font-size="11.0" text-anchor="middle">MPP4</text>
<text transform="translate(475.50 605.24) scale(0.890 1)" font-size="11.0" text-anchor="middle">CD150<tspan dy="-3.0" font-size="6.8">−</tspan><tspan dy="3.0"> CD48</tspan><tspan dy="-3.0" font-size="6.8">+</tspan></text>
<text transform="translate(475.50 618.04) scale(0.890 1)" font-size="11.0" text-anchor="middle">CD34<tspan dy="-3.0" font-size="6.8">+</tspan><tspan dy="3.0"> CD135</tspan><tspan dy="-3.0" font-size="6.8">+</tspan></text>
<text transform="translate(10.44 660.40) rotate(-90) scale(0.875 1)" font-size="11.0" text-anchor="middle">Percentage of cells</text>
<text transform="translate(23.44 659.70) rotate(-90) scale(0.875 1)" font-size="11.0" text-anchor="middle">(x10−3)</text>
<line x1="55.38" y1="650.00" x2="55.38" y2="640.00" stroke="#000" stroke-width="1.00"/>
<line x1="51.77" y1="640.00" x2="58.98" y2="640.00" stroke="#000" stroke-width="1.20"/>
<rect x="49.25" y="650.00" width="12.25" height="44.50" fill="#ffffff" stroke="#000" stroke-width="1.25"/>
<line x1="55.38" y1="694.50" x2="55.38" y2="697.00" stroke="#000" stroke-width="1.00"/>
<line x1="74.75" y1="676.25" x2="74.75" y2="672.00" stroke="#000" stroke-width="1.00"/>
<line x1="71.15" y1="672.00" x2="78.35" y2="672.00" stroke="#000" stroke-width="1.20"/>
<rect x="69.00" y="676.25" width="11.50" height="18.25" fill="#dadada" stroke="#000" stroke-width="1.25"/>
<line x1="74.75" y1="694.50" x2="74.75" y2="697.00" stroke="#000" stroke-width="1.00"/>
<line x1="93.50" y1="671.25" x2="93.50" y2="669.25" stroke="#000" stroke-width="1.00"/>
<line x1="89.90" y1="669.25" x2="97.10" y2="669.25" stroke="#000" stroke-width="1.20"/>
<rect x="87.50" y="671.25" width="12.00" height="23.25" fill="#5c5c5c" stroke="#000" stroke-width="1.25"/>
<line x1="93.50" y1="694.50" x2="93.50" y2="697.00" stroke="#000" stroke-width="1.00"/>
<line x1="110.00" y1="665.50" x2="110.00" y2="660.00" stroke="#000" stroke-width="1.00"/>
<line x1="106.40" y1="660.00" x2="113.60" y2="660.00" stroke="#000" stroke-width="1.20"/>
<rect x="104.00" y="665.50" width="12.00" height="29.00" fill="#000000" stroke="#000" stroke-width="1.25"/>
<line x1="110.00" y1="694.50" x2="110.00" y2="697.00" stroke="#000" stroke-width="1.00"/>
<line x1="45.75" y1="627.00" x2="45.75" y2="695.00" stroke="#000" stroke-width="1.25"/>
<line x1="45.25" y1="694.50" x2="119.50" y2="694.50" stroke="#000" stroke-width="1.25"/>
<line x1="43.75" y1="627.80" x2="45.75" y2="627.80" stroke="#000" stroke-width="1.00"/>
<text transform="translate(42.75 630.94) scale(0.875 1)" font-size="11.0" text-anchor="end">0.5</text>
<line x1="43.75" y1="641.14" x2="45.75" y2="641.14" stroke="#000" stroke-width="1.00"/>
<text transform="translate(42.75 644.28) scale(0.875 1)" font-size="11.0" text-anchor="end">0.4</text>
<line x1="43.75" y1="654.48" x2="45.75" y2="654.48" stroke="#000" stroke-width="1.00"/>
<text transform="translate(42.75 657.62) scale(0.875 1)" font-size="11.0" text-anchor="end">0.3</text>
<line x1="43.75" y1="667.82" x2="45.75" y2="667.82" stroke="#000" stroke-width="1.00"/>
<text transform="translate(42.75 670.96) scale(0.875 1)" font-size="11.0" text-anchor="end">0.2</text>
<line x1="43.75" y1="681.16" x2="45.75" y2="681.16" stroke="#000" stroke-width="1.00"/>
<text transform="translate(42.75 684.30) scale(0.875 1)" font-size="11.0" text-anchor="end">0.1</text>
<line x1="43.75" y1="694.50" x2="45.75" y2="694.50" stroke="#000" stroke-width="1.00"/>
<text transform="translate(42.75 697.64) scale(0.875 1)" font-size="11.0" text-anchor="end">0.0</text>
<line x1="157.12" y1="649.60" x2="157.12" y2="639.50" stroke="#000" stroke-width="1.00"/>
<line x1="153.53" y1="639.50" x2="160.72" y2="639.50" stroke="#000" stroke-width="1.20"/>
<rect x="150.50" y="649.60" width="13.25" height="44.90" fill="#ffffff" stroke="#000" stroke-width="1.25"/>
<line x1="157.12" y1="694.50" x2="157.12" y2="697.00" stroke="#000" stroke-width="1.00"/>
<line x1="176.50" y1="666.50" x2="176.50" y2="662.50" stroke="#000" stroke-width="1.00"/>
<line x1="172.90" y1="662.50" x2="180.10" y2="662.50" stroke="#000" stroke-width="1.20"/>
<rect x="170.50" y="666.50" width="12.00" height="28.00" fill="#dadada" stroke="#000" stroke-width="1.25"/>
<line x1="176.50" y1="694.50" x2="176.50" y2="697.00" stroke="#000" stroke-width="1.00"/>
<line x1="195.25" y1="678.25" x2="195.25" y2="675.50" stroke="#000" stroke-width="1.00"/>
<line x1="191.65" y1="675.50" x2="198.85" y2="675.50" stroke="#000" stroke-width="1.20"/>
<rect x="189.25" y="678.25" width="12.00" height="16.25" fill="#5c5c5c" stroke="#000" stroke-width="1.25"/>
<line x1="195.25" y1="694.50" x2="195.25" y2="697.00" stroke="#000" stroke-width="1.00"/>
<line x1="214.00" y1="642.00" x2="214.00" y2="632.50" stroke="#000" stroke-width="1.00"/>
<line x1="210.40" y1="632.50" x2="217.60" y2="632.50" stroke="#000" stroke-width="1.20"/>
<rect x="208.00" y="642.00" width="12.00" height="52.50" fill="#000000" stroke="#000" stroke-width="1.25"/>
<line x1="214.00" y1="694.50" x2="214.00" y2="697.00" stroke="#000" stroke-width="1.00"/>
<line x1="148.40" y1="626.00" x2="148.40" y2="695.00" stroke="#000" stroke-width="1.10"/>
<line x1="147.90" y1="694.50" x2="223.50" y2="694.50" stroke="#000" stroke-width="1.25"/>
<line x1="146.40" y1="631.80" x2="148.40" y2="631.80" stroke="#000" stroke-width="1.00"/>
<text transform="translate(144.00 635.95) scale(0.860 1)" font-size="11.6" text-anchor="end">1.5</text>
<line x1="146.40" y1="652.70" x2="148.40" y2="652.70" stroke="#000" stroke-width="1.00"/>
<text transform="translate(144.00 656.85) scale(0.860 1)" font-size="11.6" text-anchor="end">1.0</text>
<line x1="146.40" y1="673.60" x2="148.40" y2="673.60" stroke="#000" stroke-width="1.00"/>
<text transform="translate(144.00 677.75) scale(0.860 1)" font-size="11.6" text-anchor="end">0.5</text>
<line x1="146.40" y1="694.50" x2="148.40" y2="694.50" stroke="#000" stroke-width="1.00"/>
<text transform="translate(144.00 698.65) scale(0.860 1)" font-size="11.6" text-anchor="end">0.0</text>
<line x1="153.75" y1="636.75" x2="197.50" y2="636.75" stroke="#000" stroke-width="1.25" stroke-dasharray="2.2 1"/>
<text transform="translate(178.00 638.54) scale(0.950 1)" font-size="12.0" text-anchor="middle" font-weight="bold" stroke-width="0.15">*</text>
<line x1="195.75" y1="628.75" x2="216.25" y2="628.75" stroke="#000" stroke-width="1.25" stroke-dasharray="2.2 1"/>
<text transform="translate(206.25 631.04) scale(0.950 1)" font-size="12.0" text-anchor="middle" font-weight="bold" stroke-width="0.15">*</text>
<line x1="251.00" y1="642.50" x2="251.00" y2="631.25" stroke="#000" stroke-width="1.00"/>
<line x1="247.40" y1="631.25" x2="254.60" y2="631.25" stroke="#000" stroke-width="1.20"/>
<rect x="245.00" y="642.50" width="12.00" height="52.00" fill="#ffffff" stroke="#000" stroke-width="1.25"/>
<line x1="251.00" y1="694.50" x2="251.00" y2="697.00" stroke="#000" stroke-width="1.00"/>
<line x1="270.00" y1="661.25" x2="270.00" y2="657.00" stroke="#000" stroke-width="1.00"/>
<line x1="266.40" y1="657.00" x2="273.60" y2="657.00" stroke="#000" stroke-width="1.20"/>
<rect x="263.75" y="661.25" width="12.50" height="33.25" fill="#dadada" stroke="#000" stroke-width="1.25"/>
<line x1="270.00" y1="694.50" x2="270.00" y2="697.00" stroke="#000" stroke-width="1.00"/>
<line x1="289.12" y1="672.50" x2="289.12" y2="669.25" stroke="#000" stroke-width="1.00"/>
<line x1="285.52" y1="669.25" x2="292.73" y2="669.25" stroke="#000" stroke-width="1.20"/>
<rect x="283.00" y="672.50" width="12.25" height="22.00" fill="#5c5c5c" stroke="#000" stroke-width="1.25"/>
<line x1="289.12" y1="694.50" x2="289.12" y2="697.00" stroke="#000" stroke-width="1.00"/>
<line x1="307.75" y1="650.00" x2="307.75" y2="642.00" stroke="#000" stroke-width="1.00"/>
<line x1="304.15" y1="642.00" x2="311.35" y2="642.00" stroke="#000" stroke-width="1.20"/>
<rect x="301.75" y="650.00" width="12.00" height="44.50" fill="#000000" stroke="#000" stroke-width="1.25"/>
<line x1="307.75" y1="694.50" x2="307.75" y2="697.00" stroke="#000" stroke-width="1.00"/>
<line x1="242.00" y1="627.00" x2="242.00" y2="695.00" stroke="#000" stroke-width="1.10"/>
<line x1="241.50" y1="694.50" x2="317.25" y2="694.50" stroke="#000" stroke-width="1.25"/>
<line x1="240.00" y1="630.90" x2="242.00" y2="630.90" stroke="#000" stroke-width="1.00"/>
<text transform="translate(238.25 634.82) scale(0.900 1)" font-size="11.8" text-anchor="end">3</text>
<line x1="240.00" y1="652.10" x2="242.00" y2="652.10" stroke="#000" stroke-width="1.00"/>
<text transform="translate(238.25 656.02) scale(0.900 1)" font-size="11.8" text-anchor="end">2</text>
<line x1="240.00" y1="673.30" x2="242.00" y2="673.30" stroke="#000" stroke-width="1.00"/>
<text transform="translate(238.25 677.22) scale(0.900 1)" font-size="11.8" text-anchor="end">1</text>
<line x1="240.00" y1="694.50" x2="242.00" y2="694.50" stroke="#000" stroke-width="1.00"/>
<text transform="translate(238.25 698.42) scale(0.900 1)" font-size="11.8" text-anchor="end">0</text>
<line x1="248.75" y1="629.50" x2="292.50" y2="629.50" stroke="#000" stroke-width="1.25" stroke-dasharray="2.2 1"/>
<text transform="translate(270.75 632.29) scale(0.950 1)" font-size="12.0" text-anchor="middle" font-weight="bold" stroke-width="0.15">*</text>
<line x1="350.25" y1="656.00" x2="350.25" y2="651.25" stroke="#000" stroke-width="1.00"/>
<line x1="346.65" y1="651.25" x2="353.85" y2="651.25" stroke="#000" stroke-width="1.20"/>
<rect x="344.00" y="656.00" width="12.50" height="38.50" fill="#ffffff" stroke="#000" stroke-width="1.25"/>
<line x1="350.25" y1="694.50" x2="350.25" y2="697.00" stroke="#000" stroke-width="1.00"/>
<line x1="369.02" y1="674.00" x2="369.02" y2="672.00" stroke="#000" stroke-width="1.00"/>
<line x1="365.42" y1="672.00" x2="372.62" y2="672.00" stroke="#000" stroke-width="1.20"/>
<rect x="362.80" y="674.00" width="12.45" height="20.50" fill="#dadada" stroke="#000" stroke-width="1.25"/>
<line x1="369.02" y1="694.50" x2="369.02" y2="697.00" stroke="#000" stroke-width="1.00"/>
<line x1="387.88" y1="671.25" x2="387.88" y2="667.50" stroke="#000" stroke-width="1.00"/>
<line x1="384.27" y1="667.50" x2="391.48" y2="667.50" stroke="#000" stroke-width="1.20"/>
<rect x="381.75" y="671.25" width="12.25" height="23.25" fill="#5c5c5c" stroke="#000" stroke-width="1.25"/>
<line x1="387.88" y1="694.50" x2="387.88" y2="697.00" stroke="#000" stroke-width="1.00"/>
<line x1="407.12" y1="663.00" x2="407.12" y2="660.50" stroke="#000" stroke-width="1.00"/>
<line x1="403.52" y1="660.50" x2="410.73" y2="660.50" stroke="#000" stroke-width="1.20"/>
<rect x="401.00" y="663.00" width="12.25" height="31.50" fill="#000000" stroke="#000" stroke-width="1.25"/>
<line x1="407.12" y1="694.50" x2="407.12" y2="697.00" stroke="#000" stroke-width="1.00"/>
<line x1="340.80" y1="626.00" x2="340.80" y2="695.00" stroke="#000" stroke-width="1.10"/>
<line x1="340.30" y1="694.50" x2="416.75" y2="694.50" stroke="#000" stroke-width="1.25"/>
<line x1="338.80" y1="631.80" x2="340.80" y2="631.80" stroke="#000" stroke-width="1.00"/>
<text transform="translate(335.60 635.95) scale(0.860 1)" font-size="11.6" text-anchor="end">150</text>
<line x1="338.80" y1="652.70" x2="340.80" y2="652.70" stroke="#000" stroke-width="1.00"/>
<text transform="translate(335.60 656.85) scale(0.860 1)" font-size="11.6" text-anchor="end">100</text>
<line x1="338.80" y1="673.60" x2="340.80" y2="673.60" stroke="#000" stroke-width="1.00"/>
<text transform="translate(335.60 677.75) scale(0.860 1)" font-size="11.6" text-anchor="end">50</text>
<line x1="338.80" y1="694.50" x2="340.80" y2="694.50" stroke="#000" stroke-width="1.00"/>
<text transform="translate(335.60 698.65) scale(0.860 1)" font-size="11.6" text-anchor="end">0</text>
<line x1="348.75" y1="635.75" x2="390.00" y2="635.75" stroke="#000" stroke-width="1.25" stroke-dasharray="2.2 1"/>
<text transform="translate(371.25 638.04) scale(0.950 1)" font-size="12.0" text-anchor="middle" font-weight="bold" stroke-width="0.15">*</text>
<line x1="348.75" y1="646.25" x2="370.00" y2="646.25" stroke="#000" stroke-width="1.25" stroke-dasharray="2.2 1"/>
<text transform="translate(360.75 648.54) scale(0.950 1)" font-size="12.0" text-anchor="middle" font-weight="bold" stroke-width="0.15">*</text>
<line x1="448.62" y1="644.50" x2="448.62" y2="634.25" stroke="#000" stroke-width="1.00"/>
<line x1="445.02" y1="634.25" x2="452.23" y2="634.25" stroke="#000" stroke-width="1.20"/>
<rect x="442.50" y="644.50" width="12.25" height="52.80" fill="#ffffff" stroke="#000" stroke-width="1.25"/>
<line x1="448.62" y1="697.30" x2="448.62" y2="699.80" stroke="#000" stroke-width="1.00"/>
<line x1="468.00" y1="673.40" x2="468.00" y2="671.00" stroke="#000" stroke-width="1.00"/>
<line x1="464.40" y1="671.00" x2="471.60" y2="671.00" stroke="#000" stroke-width="1.20"/>
<rect x="462.00" y="673.40" width="12.00" height="23.90" fill="#dadada" stroke="#000" stroke-width="1.25"/>
<line x1="468.00" y1="697.30" x2="468.00" y2="699.80" stroke="#000" stroke-width="1.00"/>
<line x1="486.62" y1="664.25" x2="486.62" y2="658.25" stroke="#000" stroke-width="1.00"/>
<line x1="483.02" y1="658.25" x2="490.23" y2="658.25" stroke="#000" stroke-width="1.20"/>
<rect x="480.50" y="664.25" width="12.25" height="33.05" fill="#5c5c5c" stroke="#000" stroke-width="1.25"/>
<line x1="486.62" y1="697.30" x2="486.62" y2="699.80" stroke="#000" stroke-width="1.00"/>
<line x1="505.88" y1="638.25" x2="505.88" y2="632.50" stroke="#000" stroke-width="1.00"/>
<line x1="502.27" y1="632.50" x2="509.48" y2="632.50" stroke="#000" stroke-width="1.20"/>
<rect x="499.75" y="638.25" width="12.25" height="59.05" fill="#000000" stroke="#000" stroke-width="1.25"/>
<line x1="505.88" y1="697.30" x2="505.88" y2="699.80" stroke="#000" stroke-width="1.00"/>
<line x1="439.00" y1="628.00" x2="439.00" y2="697.80" stroke="#777" stroke-width="0.80"/>
<line x1="438.50" y1="697.30" x2="518.00" y2="697.30" stroke="#000" stroke-width="1.25"/>
<line x1="437.00" y1="631.50" x2="439.00" y2="631.50" stroke="#000" stroke-width="1.00"/>
<text transform="translate(436.00 635.80) scale(0.930 1)" font-size="12.0" text-anchor="end">25</text>
<line x1="437.00" y1="644.20" x2="439.00" y2="644.20" stroke="#000" stroke-width="1.00"/>
<text transform="translate(436.00 648.50) scale(0.930 1)" font-size="12.0" text-anchor="end">20</text>
<line x1="437.00" y1="656.90" x2="439.00" y2="656.90" stroke="#000" stroke-width="1.00"/>
<text transform="translate(436.00 661.20) scale(0.930 1)" font-size="12.0" text-anchor="end">15</text>
<line x1="437.00" y1="669.60" x2="439.00" y2="669.60" stroke="#000" stroke-width="1.00"/>
<text transform="translate(436.00 673.90) scale(0.930 1)" font-size="12.0" text-anchor="end">10</text>
<line x1="437.00" y1="681.70" x2="439.00" y2="681.70" stroke="#000" stroke-width="1.00"/>
<text transform="translate(436.00 686.00) scale(0.930 1)" font-size="12.0" text-anchor="end">5</text>
<line x1="437.00" y1="693.40" x2="439.00" y2="693.40" stroke="#000" stroke-width="1.00"/>
<text transform="translate(436.00 697.70) scale(0.930 1)" font-size="12.0" text-anchor="end">0</text>
<line x1="465.00" y1="628.75" x2="507.50" y2="628.75" stroke="#000" stroke-width="1.25" stroke-dasharray="2.2 1"/>
<text transform="translate(485.75 631.79) scale(0.950 1)" font-size="12.0" text-anchor="middle" font-weight="bold" stroke-width="0.15">*</text>
<text transform="translate(15.00 710.44)" font-size="11.8" font-style="italic" textLength="22.5" lengthAdjust="spacingAndGlyphs">Cdk4</text>
<text transform="translate(15.00 723.94)" font-size="11.8" font-style="italic" textLength="22.5" lengthAdjust="spacingAndGlyphs">Cdk6</text>
<text transform="translate(42.30 710.44)" font-size="11.8" textLength="19.8" lengthAdjust="spacingAndGlyphs">(+/+)</text>
<text transform="translate(62.86 710.44)" font-size="11.8" textLength="21.9" lengthAdjust="spacingAndGlyphs">(R/R)</text>
<text transform="translate(85.48 710.44)" font-size="11.8" textLength="19.8" lengthAdjust="spacingAndGlyphs">(+/+)</text>
<text transform="translate(106.04 710.44)" font-size="11.8" textLength="21.9" lengthAdjust="spacingAndGlyphs">(R/R)</text>
<text transform="translate(42.30 723.94)" font-size="11.8" textLength="19.8" lengthAdjust="spacingAndGlyphs">(+/+)</text>
<text transform="translate(63.89 723.94)" font-size="11.8" textLength="19.8" lengthAdjust="spacingAndGlyphs">(+/+)</text>
<text transform="translate(84.45 723.94)" font-size="11.8" textLength="21.9" lengthAdjust="spacingAndGlyphs">(R/R)</text>
<text transform="translate(106.04 723.94)" font-size="11.8" textLength="21.9" lengthAdjust="spacingAndGlyphs">(R/R)</text>
<text transform="translate(144.30 710.44)" font-size="11.8" textLength="19.7" lengthAdjust="spacingAndGlyphs">(+/+)</text>
<text transform="translate(164.74 710.44)" font-size="11.8" textLength="21.8" lengthAdjust="spacingAndGlyphs">(R/R)</text>
<text transform="translate(187.22 710.44)" font-size="11.8" textLength="19.7" lengthAdjust="spacingAndGlyphs">(+/+)</text>
<text transform="translate(207.67 710.44)" font-size="11.8" textLength="21.8" lengthAdjust="spacingAndGlyphs">(R/R)</text>
<text transform="translate(144.30 723.94)" font-size="11.8" textLength="19.7" lengthAdjust="spacingAndGlyphs">(+/+)</text>
<text transform="translate(165.76 723.94)" font-size="11.8" textLength="19.7" lengthAdjust="spacingAndGlyphs">(+/+)</text>
<text transform="translate(186.21 723.94)" font-size="11.8" textLength="21.8" lengthAdjust="spacingAndGlyphs">(R/R)</text>
<text transform="translate(207.67 723.94)" font-size="11.8" textLength="21.8" lengthAdjust="spacingAndGlyphs">(R/R)</text>
<text transform="translate(245.30 710.44)" font-size="11.8" textLength="19.5" lengthAdjust="spacingAndGlyphs">(+/+)</text>
<text transform="translate(265.50 710.44)" font-size="11.8" textLength="21.5" lengthAdjust="spacingAndGlyphs">(R/R)</text>
<text transform="translate(287.72 710.44)" font-size="11.8" textLength="19.5" lengthAdjust="spacingAndGlyphs">(+/+)</text>
<text transform="translate(307.92 710.44)" font-size="11.8" textLength="21.5" lengthAdjust="spacingAndGlyphs">(R/R)</text>
<text transform="translate(245.30 723.94)" font-size="11.8" textLength="19.5" lengthAdjust="spacingAndGlyphs">(+/+)</text>
<text transform="translate(266.51 723.94)" font-size="11.8" textLength="19.5" lengthAdjust="spacingAndGlyphs">(+/+)</text>
<text transform="translate(286.71 723.94)" font-size="11.8" textLength="21.5" lengthAdjust="spacingAndGlyphs">(R/R)</text>
<text transform="translate(307.92 723.94)" font-size="11.8" textLength="21.5" lengthAdjust="spacingAndGlyphs">(R/R)</text>
<text transform="translate(339.30 710.44)" font-size="11.8" textLength="19.4" lengthAdjust="spacingAndGlyphs">(+/+)</text>
<text transform="translate(359.38 710.44)" font-size="11.8" textLength="21.4" lengthAdjust="spacingAndGlyphs">(R/R)</text>
<text transform="translate(381.47 710.44)" font-size="11.8" textLength="19.4" lengthAdjust="spacingAndGlyphs">(+/+)</text>
<text transform="translate(401.55 710.44)" font-size="11.8" textLength="21.4" lengthAdjust="spacingAndGlyphs">(R/R)</text>
<text transform="translate(339.30 723.94)" font-size="11.8" textLength="19.4" lengthAdjust="spacingAndGlyphs">(+/+)</text>
<text transform="translate(360.38 723.94)" font-size="11.8" textLength="19.4" lengthAdjust="spacingAndGlyphs">(+/+)</text>
<text transform="translate(380.47 723.94)" font-size="11.8" textLength="21.4" lengthAdjust="spacingAndGlyphs">(R/R)</text>
<text transform="translate(401.55 723.94)" font-size="11.8" textLength="21.4" lengthAdjust="spacingAndGlyphs">(R/R)</text>
<text transform="translate(435.30 710.44)" font-size="11.8" textLength="19.6" lengthAdjust="spacingAndGlyphs">(+/+)</text>
<text transform="translate(455.62 710.44)" font-size="11.8" textLength="21.6" lengthAdjust="spacingAndGlyphs">(R/R)</text>
<text transform="translate(477.97 710.44)" font-size="11.8" textLength="19.6" lengthAdjust="spacingAndGlyphs">(+/+)</text>
<text transform="translate(498.29 710.44)" font-size="11.8" textLength="21.6" lengthAdjust="spacingAndGlyphs">(R/R)</text>
<text transform="translate(435.30 723.94)" font-size="11.8" textLength="19.6" lengthAdjust="spacingAndGlyphs">(+/+)</text>
<text transform="translate(456.64 723.94)" font-size="11.8" textLength="19.6" lengthAdjust="spacingAndGlyphs">(+/+)</text>
<text transform="translate(476.96 723.94)" font-size="11.8" textLength="21.6" lengthAdjust="spacingAndGlyphs">(R/R)</text>
<text transform="translate(498.29 723.94)" font-size="11.8" textLength="21.6" lengthAdjust="spacingAndGlyphs">(R/R)</text>
</svg>
</body></html>
